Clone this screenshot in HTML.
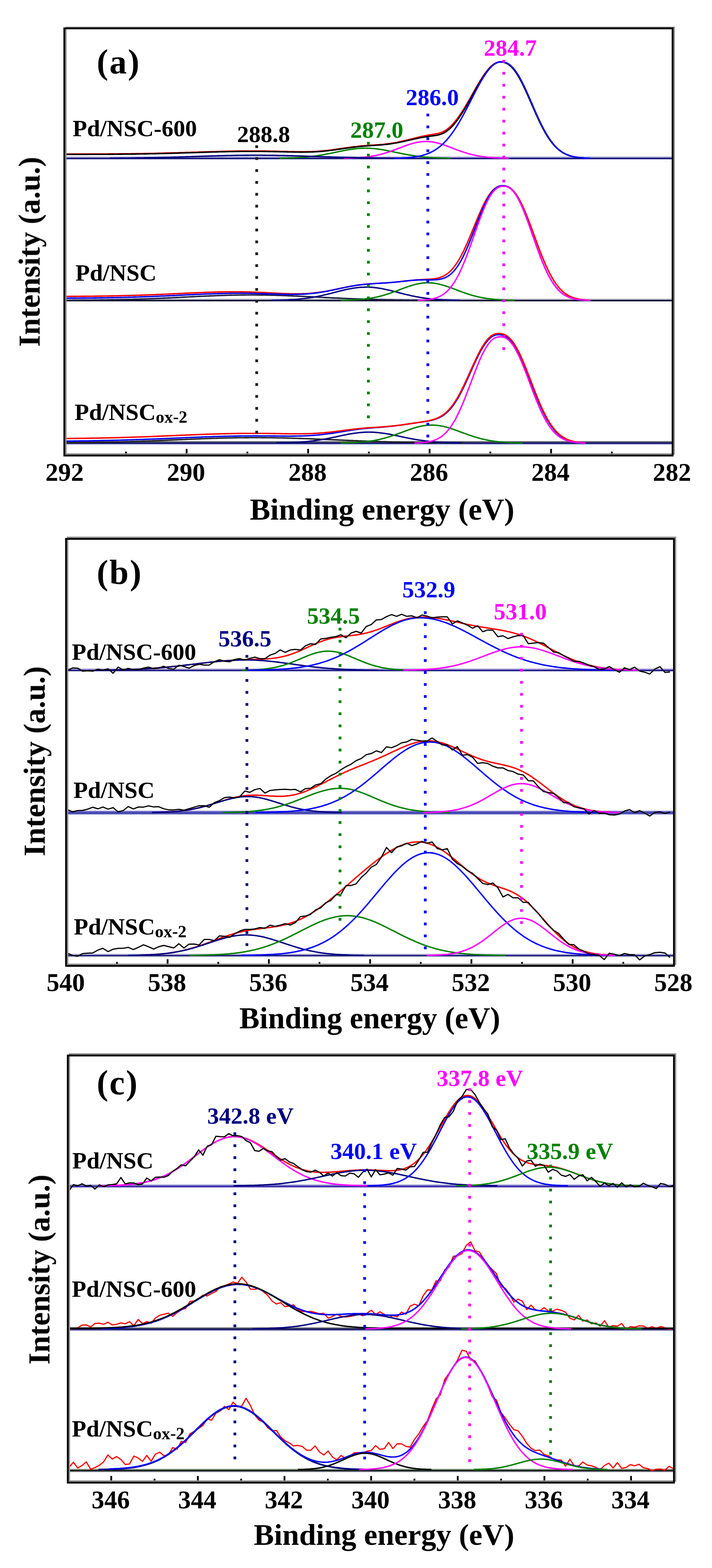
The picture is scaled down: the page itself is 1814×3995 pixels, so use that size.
<!DOCTYPE html>
<html><head><meta charset="utf-8"><title>XPS spectra</title>
<style>html,body{margin:0;padding:0;background:#fff;width:1814px;height:3995px;overflow:hidden}svg{display:block}
text{font-family:'Liberation Serif','Times New Roman',serif;font-weight:bold}</style></head>
<body><svg width="1814" height="3995" viewBox="0 0 1814 3995">
<defs><filter id="soft" x="0" y="0" width="100%" height="100%"><feGaussianBlur stdDeviation="0.75"/></filter></defs>
<rect width="1814" height="3995" fill="#ffffff"/>
<g filter="url(#soft)">
<line x1="163.9" y1="400.3" x2="1713.6" y2="400.3" stroke="#a6a6d8" stroke-width="3"/>
<line x1="163.9" y1="403.8" x2="1713.6" y2="403.8" stroke="#14147a" stroke-width="4"/>
<path d="M712 403.1L716 403.1L720 403L724 402.9L728 402.8L732 402.7L736 402.6L740 402.5L744 402.3L748 402.2L752 402L756 401.8L760 401.6L764 401.3L768 401L772 400.8L776 400.4L780 400.1L784 399.7L788 399.3L792 398.8L796 398.4L800 397.8L804 397.3L808 396.7L812 396.1L816 395.5L820 394.8L824 394.1L828 393.4L832 392.6L836 391.8L840 391L844 390.2L848 389.4L852 388.6L856 387.7L860 386.9L864 386.1L868 385.2L872 384.4L876 383.6L880 382.9L884 382.1L888 381.4L892 380.8L896 380.2L900 379.6L904 379.1L908 378.7L912 378.3L916 378L920 377.8L924 377.6L928 377.5L932 377.5L936 377.6L940 377.7L944 377.9L948 378.2L952 378.5L956 378.9L960 379.4L964 379.9L968 380.5L972 381.1L976 381.8L980 382.5L984 383.2L988 384L992 384.8L996 385.6L1000 386.5L1004 387.3L1008 388.2L1012 389L1016 389.8L1020 390.6L1024 391.4L1028 392.2L1032 393L1036 393.7L1040 394.5L1044 395.1L1048 395.8L1052 396.4L1056 397L1060 397.6L1064 398.1L1068 398.6L1072 399.1L1076 399.5L1080 399.9L1084 400.3L1088 400.6L1092 400.9L1096 401.2L1100 401.4L1104 401.7L1108 401.9L1112 402.1L1116 402.3L1120 402.4L1124 402.6L1128 402.7L1132 402.8L1136 402.9L1140 403L1144 403L1148 403.1" fill="none" stroke="#008000" stroke-width="3.6" stroke-linejoin="round"/>
<path d="M876 403.1L880 403L884 403L888 402.9L892 402.7L896 402.6L900 402.4L904 402.3L908 402L912 401.8L916 401.5L920 401.2L924 400.9L928 400.5L932 400.1L936 399.6L940 399.1L944 398.5L948 397.8L952 397.1L956 396.4L960 395.6L964 394.7L968 393.7L972 392.7L976 391.6L980 390.4L984 389.2L988 388L992 386.6L996 385.2L1000 383.8L1004 382.3L1008 380.9L1012 379.3L1016 377.8L1020 376.3L1024 374.7L1028 373.2L1032 371.8L1036 370.3L1040 369L1044 367.6L1048 366.4L1052 365.3L1056 364.2L1060 363.3L1064 362.5L1068 361.8L1072 361.3L1076 360.9L1080 360.6L1084 360.5L1088 360.5L1092 360.7L1096 361.1L1100 361.5L1104 362.1L1108 362.9L1112 363.8L1116 364.7L1120 365.8L1124 367L1128 368.3L1132 369.6L1136 371L1140 372.5L1144 374L1148 375.5L1152 377L1156 378.6L1160 380.1L1164 381.6L1168 383.1L1172 384.5L1176 385.9L1180 387.3L1184 388.6L1188 389.8L1192 391L1196 392.2L1200 393.2L1204 394.2L1208 395.1L1212 396L1216 396.8L1220 397.5L1224 398.2L1228 398.8L1232 399.3L1236 399.8L1240 400.3L1244 400.7L1248 401.1L1252 401.4L1256 401.7L1260 401.9L1264 402.2L1268 402.3L1272 402.5L1276 402.7L1280 402.8L1284 402.9L1288 403L1292 403.1L1296 403.2" fill="none" stroke="#ff00ff" stroke-width="3.6" stroke-linejoin="round"/>
<path d="M280 403.1L284 403.1L288 403.1L292 403L296 403L300 403L304 402.9L308 402.9L312 402.9L316 402.8L320 402.8L324 402.7L328 402.7L332 402.7L336 402.6L340 402.6L344 402.5L348 402.4L352 402.4L356 402.3L360 402.3L364 402.2L368 402.1L372 402.1L376 402L380 401.9L384 401.8L388 401.8L392 401.7L396 401.6L400 401.5L404 401.4L408 401.3L412 401.2L416 401.1L420 401L424 400.9L428 400.8L432 400.7L436 400.6L440 400.5L444 400.4L448 400.3L452 400.2L456 400L460 399.9L464 399.8L468 399.7L472 399.5L476 399.4L480 399.3L484 399.2L488 399L492 398.9L496 398.8L500 398.6L504 398.5L508 398.4L512 398.3L516 398.1L520 398L524 397.9L528 397.8L532 397.6L536 397.5L540 397.4L544 397.3L548 397.2L552 397L556 396.9L560 396.8L564 396.7L568 396.6L572 396.5L576 396.4L580 396.3L584 396.2L588 396.2L592 396.1L596 396L600 395.9L604 395.9L608 395.8L612 395.8L616 395.7L620 395.7L624 395.6L628 395.6L632 395.6L636 395.5L640 395.5L644 395.5L648 395.5L652 395.5L656 395.5L660 395.5L664 395.5L668 395.6L672 395.6L676 395.6L680 395.7L684 395.7L688 395.8L692 395.8L696 395.9L700 395.9L704 396L708 396.1L712 396.2L716 396.2L720 396.3L724 396.4L728 396.5L732 396.6L736 396.7L740 396.8L744 396.9L748 397L752 397.2L756 397.3L760 397.4L764 397.5L768 397.6L772 397.8L776 397.9L780 398L784 398.1L788 398.3L792 398.4L796 398.5L800 398.6L804 398.8L808 398.9L812 399L816 399.2L820 399.3L824 399.4L828 399.5L832 399.7L836 399.8L840 399.9L844 400L848 400.2L852 400.3L856 400.4L860 400.5L864 400.6L868 400.7L872 400.8L876 400.9L880 401L884 401.1L888 401.2L892 401.3L896 401.4L900 401.5L904 401.6L908 401.7L912 401.8L916 401.8L920 401.9L924 402L928 402.1L932 402.1L936 402.2L940 402.3L944 402.3L948 402.4L952 402.4L956 402.5L960 402.6L964 402.6L968 402.7L972 402.7L976 402.7L980 402.8L984 402.8L988 402.9L992 402.9L996 402.9L1000 403L1004 403L1008 403L1012 403.1L1016 403.1L1020 403.1" fill="none" stroke="#000080" stroke-width="3.6" stroke-linejoin="round"/>
<path d="M168 392.5L172 392.5L176 392.4L180 392.4L184 392.4L188 392.4L192 392.4L196 392.4L200 392.4L204 392.4L208 392.4L212 392.4L216 392.4L220 392.4L224 392.4L228 392.3L232 392.3L236 392.3L240 392.3L244 392.3L248 392.3L252 392.3L256 392.2L260 392.2L264 392.2L268 392.2L272 392.2L276 392.1L280 392.1L284 392.1L288 392.1L292 392L296 392L300 392L304 391.9L308 391.9L312 391.9L316 391.8L320 391.8L324 391.7L328 391.7L332 391.7L336 391.6L340 391.6L344 391.5L348 391.4L352 391.4L356 391.3L360 391.3L364 391.2L368 391.1L372 391.1L376 391L380 390.9L384 390.8L388 390.8L392 390.7L396 390.6L400 390.5L404 390.4L408 390.3L412 390.2L416 390.1L420 390L424 389.9L428 389.8L432 389.7L436 389.6L440 389.5L444 389.4L448 389.3L452 389.2L456 389L460 388.9L464 388.8L468 388.7L472 388.5L476 388.4L480 388.3L484 388.2L488 388L492 387.9L496 387.8L500 387.7L504 387.5L508 387.4L512 387.3L516 387.1L520 387L524 386.9L528 386.8L532 386.6L536 386.5L540 386.4L544 386.3L548 386.2L552 386.1L556 386L560 385.8L564 385.7L568 385.6L572 385.6L576 385.5L580 385.4L584 385.3L588 385.2L592 385.1L596 385.1L600 385L604 384.9L608 384.9L612 384.8L616 384.8L620 384.8L624 384.7L628 384.7L632 384.7L636 384.7L640 384.7L644 384.7L648 384.7L652 384.7L656 384.7L660 384.8L664 384.8L668 384.8L672 384.9L676 384.9L680 385L684 385.1L688 385.1L692 385.2L696 385.3L700 385.4L704 385.4L708 385.5L712 385.6L716 385.7L720 385.8L724 385.9L728 386L732 386.1L736 386.2L740 386.2L744 386.3L748 386.4L752 386.5L756 386.5L760 386.5L764 386.6L768 386.6L772 386.6L776 386.5L780 386.5L784 386.4L788 386.3L792 386.2L796 386.1L800 385.9L804 385.7L808 385.5L812 385.2L816 384.9L820 384.6L824 384.2L828 383.8L832 383.4L836 383L840 382.5L844 382L848 381.5L852 380.9L856 380.4L860 379.8L864 379.2L868 378.6L872 378L876 377.4L880 376.9L884 376.3L888 375.7L892 375.2L896 374.6L900 374.1L904 373.6L908 373.2L912 372.7L916 372.3L920 371.9L924 371.6L928 371.3L932 370.9L936 370.6L940 370.4L944 370.1L948 369.8L952 369.5L956 369.3L960 369L964 368.7L968 368.4L972 368L976 367.7L980 367.3L984 366.8L988 366.3L992 365.8L996 365.2L1000 364.6L1004 363.9L1008 363.2L1012 362.4L1016 361.6L1020 360.7L1024 359.8L1028 358.9L1032 357.9L1036 357L1040 356L1044 355L1048 353.9L1052 352.9L1056 351.9L1060 350.9L1064 350L1068 349L1072 348.1L1076 347.2L1080 346.4L1084 345.6L1088 344.9L1092 344.1L1096 343.5L1100 342.8L1104 342.2L1108 341.6L1112 340.8L1116 340L1120 338.9L1124 337.6L1128 335.9L1132 333.9L1136 331.5L1140 328.7L1144 325.5L1148 321.9L1152 317.9L1156 313.5L1160 308.7L1164 303.6L1168 298.2L1172 292.4L1176 286.4L1180 280.2L1184 273.7L1188 267L1192 260.2L1196 253.3L1200 246.2L1204 239.2L1208 232.1L1212 225L1216 218.1L1220 211.3L1224 204.7L1228 198.4L1232 192.3L1236 186.6L1240 181.3L1244 176.4L1248 172L1252 168.1L1256 164.8L1260 162L1264 159.9L1268 158.5L1272 157.6L1276 157.5L1280 157.9L1284 158.6L1288 159.9L1292 161.8L1296 164.3L1300 167.5L1304 171.3L1308 175.8L1312 181L1316 186.8L1320 193.1L1324 200.1L1328 207.6L1332 215.5L1336 223.8L1340 232.4L1344 241.3L1348 250.4L1352 259.5L1356 268.7L1360 277.9L1364 286.9L1368 295.8L1372 304.5L1376 312.9L1380 320.9L1384 328.6L1388 335.9L1392 342.8L1396 349.2L1400 355.2L1404 360.7L1408 365.8L1412 370.5L1416 374.7L1420 378.5L1424 382L1428 385L1432 387.7L1436 390.1L1440 392.2L1444 394L1448 395.5L1452 396.9L1456 398L1460 399L1464 399.8L1468 400.5L1472 401.1L1476 401.6L1480 401.9L1484 402.3L1488 402.5" fill="none" stroke="#ff0000" stroke-width="3.6" stroke-linejoin="round"/>
<path d="M168 393.5L172 393.5L176 393.4L180 393.4L184 393.4L188 393.4L192 393.4L196 393.4L200 393.4L204 393.4L208 393.4L212 393.4L216 393.4L220 393.4L224 393.4L228 393.3L232 393.3L236 393.3L240 393.3L244 393.3L248 393.3L252 393.3L256 393.2L260 393.2L264 393.2L268 393.2L272 393.2L276 393.1L280 393.1L284 393.1L288 393.1L292 393L296 393L300 393L304 392.9L308 392.9L312 392.9L316 392.8L320 392.8L324 392.7L328 392.7L332 392.7L336 392.6L340 392.6L344 392.5L348 392.4L352 392.4L356 392.3L360 392.3L364 392.2L368 392.1L372 392.1L376 392L380 391.9L384 391.8L388 391.8L392 391.7L396 391.6L400 391.5L404 391.4L408 391.3L412 391.2L416 391.1L420 391L424 390.9L428 390.8L432 390.7L436 390.6L440 390.5L444 390.4L448 390.3L452 390.2L456 390L460 389.9L464 389.8L468 389.7L472 389.5L476 389.4L480 389.3L484 389.2L488 389L492 388.9L496 388.8L500 388.7L504 388.5L508 388.4L512 388.3L516 388.1L520 388L524 387.9L528 387.8L532 387.6L536 387.5L540 387.4L544 387.3L548 387.2L552 387.1L556 387L560 386.8L564 386.7L568 386.6L572 386.6L576 386.5L580 386.4L584 386.3L588 386.2L592 386.1L596 386.1L600 386L604 385.9L608 385.9L612 385.8L616 385.8L620 385.8L624 385.7L628 385.7L632 385.7L636 385.7L640 385.7L644 385.7L648 385.7L652 385.7L656 385.7L660 385.8L664 385.8L668 385.8L672 385.9L676 385.9L680 386L684 386.1L688 386.1L692 386.2L696 386.3L700 386.4L704 386.4L708 386.5L712 386.6L716 386.7L720 386.8L724 386.9L728 387L732 387.1L736 387.2L740 387.2L744 387.3L748 387.4L752 387.5L756 387.5L760 387.5L764 387.6L768 387.6L772 387.6L776 387.5L780 387.5L784 387.4L788 387.3L792 387.2L796 387.1L800 386.9L804 386.7L808 386.5L812 386.2L816 385.9L820 385.6L824 385.2L828 384.8L832 384.4L836 384L840 383.5L844 383L848 382.5L852 381.9L856 381.4L860 380.8L864 380.2L868 379.6L872 379L876 378.4L880 377.9L884 377.3L888 376.7L892 376.2L896 375.6L900 375.1L904 374.6L908 374.2L912 373.7L916 373.3L920 372.9L924 372.6L928 372.3L932 371.9L936 371.6L940 371.4L944 371.1L948 370.8L952 370.6L956 370.3L960 370L964 369.7L968 369.4L972 369.1L976 368.7L980 368.3L984 367.9L988 367.4L992 366.9L996 366.4L1000 365.8L1004 365.1L1008 364.4L1012 363.7L1016 362.9L1020 362.1L1024 361.3L1028 360.4L1032 359.5L1036 358.6L1040 357.7L1044 356.8L1048 355.9L1052 355L1056 354.1L1060 353.2L1064 352.4L1068 351.6L1072 350.8L1076 350.1L1080 349.4L1084 348.7L1088 348.1L1092 347.5L1096 347L1100 346.5L1104 345.9L1108 345.4L1112 344.7L1116 343.9L1120 342.9L1124 341.6L1128 340L1132 338.1L1136 335.7L1140 332.9L1144 329.7L1148 326L1152 322L1156 317.5L1160 312.7L1164 307.5L1168 302L1172 296.2L1176 290.1L1180 283.7L1184 277.1L1188 270.3L1192 263.4L1196 256.3L1200 249.1L1204 241.8L1208 234.6L1212 227.4L1216 220.3L1220 213.3L1224 206.6L1228 200.1L1232 193.9L1236 188L1240 182.6L1244 177.6L1248 173L1252 169L1256 165.6L1260 162.8L1264 160.6L1268 159L1272 158.1L1276 157.9L1280 158.2L1284 159L1288 160.2L1292 162L1296 164.5L1300 167.7L1304 171.5L1308 175.9L1312 181.1L1316 186.8L1320 193.2L1324 200.2L1328 207.6L1332 215.5L1336 223.8L1340 232.5L1344 241.3L1348 250.4L1352 259.6L1356 268.7L1360 277.9L1364 287L1368 295.8L1372 304.5L1376 312.9L1380 320.9L1384 328.6L1388 335.9L1392 342.8L1396 349.2L1400 355.2L1404 360.7L1408 365.8L1412 370.5L1416 374.7L1420 378.5L1424 382L1428 385L1432 387.7L1436 390.1L1440 392.2L1444 394L1448 395.5L1452 396.9L1456 398L1460 399L1464 399.8L1468 400.5L1472 401.1L1476 401.6L1480 401.9L1484 402.3L1488 402.5" fill="none" stroke="#000000" stroke-width="3.6" stroke-linejoin="round"/>
<path d="M1004 403.1L1008 403L1012 402.9L1016 402.8L1020 402.7L1024 402.5L1028 402.3L1032 402.1L1036 401.9L1040 401.6L1044 401.2L1048 400.8L1052 400.4L1056 399.8L1060 399.2L1064 398.6L1068 397.8L1072 396.9L1076 395.9L1080 394.8L1084 393.6L1088 392.1L1092 390.6L1096 388.8L1100 386.9L1104 384.8L1108 382.4L1112 379.9L1116 377L1120 374L1124 370.6L1128 367L1132 363.1L1136 359L1140 354.5L1144 349.7L1148 344.6L1152 339.2L1156 333.5L1160 327.5L1164 321.3L1168 314.7L1172 307.9L1176 300.9L1180 293.6L1184 286.2L1188 278.6L1192 270.9L1196 263.1L1200 255.3L1204 247.4L1208 239.6L1212 231.9L1216 224.3L1220 216.9L1224 209.7L1228 202.8L1232 196.3L1236 190.1L1240 184.3L1244 179L1248 174.2L1252 170L1256 166.3L1260 163.2L1264 160.8L1268 159L1272 157.9L1276 157.5L1280 157.6L1284 158.1L1288 159.2L1292 160.8L1296 163.1L1300 166L1304 169.6L1308 173.9L1312 178.9L1316 184.5L1320 190.7L1324 197.5L1328 204.9L1332 212.7L1336 220.9L1340 229.5L1344 238.4L1348 247.4L1352 256.6L1356 265.8L1360 275.1L1364 284.2L1368 293.2L1372 302L1376 310.5L1380 318.7L1384 326.5L1388 334L1392 341L1396 347.6L1400 353.8L1404 359.5L1408 364.7L1412 369.5L1416 373.9L1420 377.8L1424 381.3L1428 384.5L1432 387.2L1436 389.7L1440 391.8L1444 393.7L1448 395.3L1452 396.7L1456 397.9L1460 398.9L1464 399.7L1468 400.4L1472 401L1476 401.5L1480 401.9L1484 402.2L1488 402.5L1492 402.7L1496 402.9L1500 403L1504 403.1" fill="none" stroke="#0000ff" stroke-width="3.6" stroke-linejoin="round"/>
<line x1="163.9" y1="762.3" x2="1713.6" y2="762.3" stroke="#c0c0d0" stroke-width="3"/>
<line x1="163.9" y1="765.8" x2="1713.6" y2="765.8" stroke="#101030" stroke-width="4"/>
<path d="M184 765.1L188 765.1L192 765.1L196 765L200 765L204 765L208 764.9L212 764.9L216 764.9L220 764.8L224 764.8L228 764.8L232 764.7L236 764.7L240 764.6L244 764.6L248 764.5L252 764.5L256 764.4L260 764.3L264 764.3L268 764.2L272 764.2L276 764.1L280 764L284 763.9L288 763.9L292 763.8L296 763.7L300 763.6L304 763.5L308 763.4L312 763.3L316 763.2L320 763.1L324 763L328 762.9L332 762.8L336 762.7L340 762.5L344 762.4L348 762.3L352 762.2L356 762L360 761.9L364 761.8L368 761.6L372 761.5L376 761.3L380 761.2L384 761L388 760.8L392 760.7L396 760.5L400 760.3L404 760.2L408 760L412 759.8L416 759.6L420 759.4L424 759.3L428 759.1L432 758.9L436 758.7L440 758.5L444 758.3L448 758.1L452 757.9L456 757.7L460 757.5L464 757.3L468 757.1L472 756.9L476 756.7L480 756.5L484 756.3L488 756.1L492 755.9L496 755.7L500 755.5L504 755.3L508 755.1L512 755L516 754.8L520 754.6L524 754.4L528 754.2L532 754.1L536 753.9L540 753.7L544 753.6L548 753.4L552 753.3L556 753.1L560 753L564 752.8L568 752.7L572 752.6L576 752.5L580 752.3L584 752.2L588 752.1L592 752L596 752L600 751.9L604 751.8L608 751.7L612 751.7L616 751.6L620 751.6L624 751.6L628 751.5L632 751.5L636 751.5L640 751.5L644 751.5L648 751.5L652 751.5L656 751.6L660 751.6L664 751.6L668 751.7L672 751.7L676 751.8L680 751.9L684 752L688 752L692 752.1L696 752.2L700 752.3L704 752.5L708 752.6L712 752.7L716 752.8L720 753L724 753.1L728 753.3L732 753.4L736 753.6L740 753.7L744 753.9L748 754.1L752 754.2L756 754.4L760 754.6L764 754.8L768 755L772 755.1L776 755.3L780 755.5L784 755.7L788 755.9L792 756.1L796 756.3L800 756.5L804 756.7L808 756.9L812 757.1L816 757.3L820 757.5L824 757.7L828 757.9L832 758.1L836 758.3L840 758.5L844 758.7L848 758.9L852 759.1L856 759.3L860 759.4L864 759.6L868 759.8L872 760L876 760.2L880 760.3L884 760.5L888 760.7L892 760.8L896 761L900 761.2L904 761.3L908 761.5L912 761.6L916 761.8L920 761.9L924 762L928 762.2L932 762.3L936 762.4L940 762.5L944 762.7L948 762.8L952 762.9L956 763L960 763.1L964 763.2L968 763.3L972 763.4L976 763.5L980 763.6L984 763.7L988 763.8L992 763.9L996 763.9L1000 764L1004 764.1L1008 764.2L1012 764.2L1016 764.3L1020 764.3L1024 764.4L1028 764.5L1032 764.5L1036 764.6L1040 764.6L1044 764.7L1048 764.7L1052 764.8L1056 764.8L1060 764.8L1064 764.9L1068 764.9L1072 764.9L1076 765L1080 765L1084 765L1088 765.1L1092 765.1L1096 765.1" fill="none" stroke="#1a1a40" stroke-width="3.6" stroke-linejoin="round"/>
<path d="M692 765.1L696 765.1L700 765L704 764.9L708 764.8L712 764.8L716 764.6L720 764.5L724 764.4L728 764.2L732 764.1L736 763.9L740 763.6L744 763.4L748 763.2L752 762.9L756 762.6L760 762.2L764 761.8L768 761.4L772 761L776 760.5L780 760L784 759.5L788 758.9L792 758.3L796 757.7L800 757L804 756.2L808 755.5L812 754.7L816 753.8L820 753L824 752.1L828 751.1L832 750.2L836 749.2L840 748.2L844 747.2L848 746.2L852 745.1L856 744.1L860 743.1L864 742.1L868 741.1L872 740.1L876 739.1L880 738.2L884 737.3L888 736.5L892 735.7L896 734.9L900 734.3L904 733.7L908 733.1L912 732.7L916 732.3L920 731.9L924 731.7L928 731.6L932 731.5L936 731.5L940 731.6L944 731.8L948 732.1L952 732.4L956 732.9L960 733.4L964 734L968 734.6L972 735.3L976 736.1L980 736.9L984 737.8L988 738.7L992 739.6L996 740.6L1000 741.6L1004 742.6L1008 743.6L1012 744.6L1016 745.7L1020 746.7L1024 747.7L1028 748.7L1032 749.7L1036 750.7L1040 751.6L1044 752.5L1048 753.4L1052 754.3L1056 755.1L1060 755.9L1064 756.6L1068 757.3L1072 758L1076 758.6L1080 759.2L1084 759.8L1088 760.3L1092 760.8L1096 761.2L1100 761.7L1104 762L1108 762.4L1112 762.7L1116 763L1120 763.3L1124 763.5L1128 763.8L1132 764L1136 764.1L1140 764.3L1144 764.5L1148 764.6L1152 764.7L1156 764.8L1160 764.9L1164 765L1168 765L1172 765.1" fill="none" stroke="#000080" stroke-width="3.6" stroke-linejoin="round"/>
<path d="M868 765.1L872 765L876 765L880 764.9L884 764.7L888 764.6L892 764.5L896 764.3L900 764.1L904 763.9L908 763.7L912 763.4L916 763.1L920 762.7L924 762.3L928 761.9L932 761.4L936 760.9L940 760.4L944 759.7L948 759.1L952 758.3L956 757.5L960 756.7L964 755.8L968 754.8L972 753.8L976 752.7L980 751.5L984 750.3L988 749L992 747.7L996 746.3L1000 744.9L1004 743.4L1008 742L1012 740.5L1016 739L1020 737.4L1024 735.9L1028 734.4L1032 733L1036 731.5L1040 730.1L1044 728.8L1048 727.5L1052 726.4L1056 725.2L1060 724.2L1064 723.3L1068 722.6L1072 721.9L1076 721.3L1080 720.9L1084 720.7L1088 720.5L1092 720.5L1096 720.7L1100 720.9L1104 721.3L1108 721.9L1112 722.6L1116 723.3L1120 724.2L1124 725.2L1128 726.4L1132 727.5L1136 728.8L1140 730.1L1144 731.5L1148 733L1152 734.4L1156 735.9L1160 737.4L1164 739L1168 740.5L1172 742L1176 743.4L1180 744.9L1184 746.3L1188 747.7L1192 749L1196 750.3L1200 751.5L1204 752.7L1208 753.8L1212 754.8L1216 755.8L1220 756.7L1224 757.5L1228 758.3L1232 759.1L1236 759.7L1240 760.4L1244 760.9L1248 761.4L1252 761.9L1256 762.3L1260 762.7L1264 763.1L1268 763.4L1272 763.7L1276 763.9L1280 764.1L1284 764.3L1288 764.5L1292 764.6L1296 764.7L1300 764.9L1304 765L1308 765L1312 765.1" fill="none" stroke="#008000" stroke-width="3.6" stroke-linejoin="round"/>
<path d="M168 755.2L172 755.2L176 755.2L180 755.1L184 755.1L188 755.1L192 755.1L196 755L200 755L204 755L208 754.9L212 754.9L216 754.9L220 754.8L224 754.8L228 754.8L232 754.7L236 754.7L240 754.6L244 754.6L248 754.5L252 754.5L256 754.4L260 754.4L264 754.3L268 754.2L272 754.2L276 754.1L280 754L284 753.9L288 753.9L292 753.8L296 753.7L300 753.6L304 753.5L308 753.4L312 753.3L316 753.2L320 753.1L324 753L328 752.9L332 752.8L336 752.7L340 752.6L344 752.5L348 752.3L352 752.2L356 752.1L360 751.9L364 751.8L368 751.6L372 751.5L376 751.4L380 751.2L384 751L388 750.9L392 750.7L396 750.6L400 750.4L404 750.2L408 750.1L412 749.9L416 749.7L420 749.5L424 749.4L428 749.2L432 749L436 748.8L440 748.6L444 748.4L448 748.2L452 748.1L456 747.9L460 747.7L464 747.5L468 747.3L472 747.1L476 746.9L480 746.8L484 746.6L488 746.4L492 746.2L496 746L500 745.9L504 745.7L508 745.5L512 745.4L516 745.2L520 745.1L524 744.9L528 744.8L532 744.6L536 744.5L540 744.4L544 744.3L548 744.1L552 744L556 743.9L560 743.9L564 743.8L568 743.7L572 743.6L576 743.6L580 743.5L584 743.5L588 743.5L592 743.5L596 743.5L600 743.5L604 743.5L608 743.5L612 743.6L616 743.6L620 743.7L624 743.7L628 743.8L632 743.9L636 744L640 744.1L644 744.3L648 744.4L652 744.6L656 744.7L660 744.9L664 745.1L668 745.2L672 745.4L676 745.6L680 745.8L684 746L688 746.2L692 746.4L696 746.7L700 746.9L704 747.1L708 747.3L712 747.5L716 747.6L720 747.8L724 748L728 748.1L732 748.3L736 748.4L740 748.5L744 748.6L748 748.6L752 748.6L756 748.6L760 748.6L764 748.6L768 748.5L772 748.3L776 748.2L780 748L784 747.7L788 747.5L792 747.1L796 746.8L800 746.4L804 745.9L808 745.4L812 744.9L816 744.3L820 743.7L824 743.1L828 742.4L832 741.7L836 741L840 740.2L844 739.4L848 738.6L852 737.8L856 736.9L860 736.1L864 735.2L868 734.4L872 733.6L876 732.7L880 731.9L884 731.1L888 730.3L892 729.6L896 728.9L900 728.2L904 727.5L908 726.9L912 726.4L916 725.8L920 725.3L924 724.9L928 724.4L932 724L936 723.7L940 723.4L944 723.1L948 722.8L952 722.5L956 722.3L960 722.1L964 721.8L968 721.6L972 721.4L976 721.1L980 720.9L984 720.6L988 720.4L992 720.1L996 719.7L1000 719.4L1004 719L1008 718.6L1012 718.2L1016 717.8L1020 717.4L1024 716.9L1028 716.5L1032 716.1L1036 715.6L1040 715.2L1044 714.8L1048 714.4L1052 714L1056 713.6L1060 713.3L1064 713L1068 712.8L1072 712.5L1076 712.3L1080 712.1L1084 711.9L1088 711.8L1092 711.5L1096 711.3L1100 710.9L1104 710.5L1108 710L1112 709.3L1116 708.4L1120 707.3L1124 705.9L1128 704.3L1132 702.3L1136 699.9L1140 697.1L1144 693.9L1148 690.2L1152 686L1156 681.2L1160 676L1164 670.2L1168 663.8L1172 656.9L1176 649.5L1180 641.7L1184 633.3L1188 624.6L1192 615.5L1196 606.1L1200 596.5L1204 586.8L1208 577L1212 567.2L1216 557.5L1220 548.1L1224 538.9L1228 530.1L1232 521.7L1236 513.9L1240 506.6L1244 500L1248 494.1L1252 488.9L1256 484.5L1260 480.8L1264 477.9L1268 475.7L1272 474.2L1276 473.4L1280 473.2L1284 473.3L1288 473.8L1292 474.9L1296 476.6L1300 479L1304 482.2L1308 486.1L1312 490.9L1316 496.4L1320 502.7L1324 509.7L1328 517.5L1332 525.9L1336 534.9L1340 544.4L1344 554.3L1348 564.7L1352 575.3L1356 586.1L1360 597L1364 607.9L1368 618.8L1372 629.6L1376 640.1L1380 650.3L1384 660.2L1388 669.7L1392 678.8L1396 687.3L1400 695.4L1404 703L1408 710L1412 716.5L1416 722.4L1420 727.8L1424 732.7L1428 737.1L1432 741.1L1436 744.6L1440 747.7L1444 750.4L1448 752.8L1452 754.8L1456 756.6L1460 758.1L1464 759.4L1468 760.5L1472 761.4L1476 762.2L1480 762.9L1484 763.4L1488 763.8L1492 764.2L1496 764.4L1500 764.7" fill="none" stroke="#ff0000" stroke-width="3.6" stroke-linejoin="round"/>
<path d="M168 759.7L172 759.7L176 759.7L180 759.6L184 759.6L188 759.6L192 759.6L196 759.5L200 759.5L204 759.5L208 759.4L212 759.4L216 759.4L220 759.3L224 759.3L228 759.3L232 759.2L236 759.2L240 759.1L244 759.1L248 759L252 759L256 758.9L260 758.9L264 758.8L268 758.7L272 758.7L276 758.6L280 758.5L284 758.4L288 758.4L292 758.3L296 758.2L300 758.1L304 758L308 757.9L312 757.8L316 757.7L320 757.6L324 757.5L328 757.4L332 757.3L336 757.2L340 757.1L344 756.9L348 756.8L352 756.7L356 756.5L360 756.4L364 756.3L368 756.1L372 756L376 755.8L380 755.7L384 755.5L388 755.4L392 755.2L396 755L400 754.9L404 754.7L408 754.5L412 754.3L416 754.2L420 754L424 753.8L428 753.6L432 753.4L436 753.3L440 753.1L444 752.9L448 752.7L452 752.5L456 752.3L460 752.1L464 751.9L468 751.7L472 751.5L476 751.3L480 751.1L484 751L488 750.8L492 750.6L496 750.4L500 750.2L504 750L508 749.9L512 749.7L516 749.5L520 749.3L524 749.2L528 749L532 748.9L536 748.7L540 748.6L544 748.4L548 748.3L552 748.2L556 748.1L560 748L564 747.9L568 747.8L572 747.7L576 747.6L580 747.5L584 747.4L588 747.4L592 747.3L596 747.3L600 747.3L604 747.2L608 747.2L612 747.2L616 747.2L620 747.2L624 747.3L628 747.3L632 747.3L636 747.4L640 747.4L644 747.5L648 747.6L652 747.7L656 747.8L660 747.9L664 748L668 748.1L672 748.2L676 748.3L680 748.5L684 748.6L688 748.7L692 748.9L696 749L700 749.1L704 749.3L708 749.4L712 749.5L716 749.6L720 749.7L724 749.8L728 749.9L732 749.9L736 750L740 750L744 750L748 750L752 750L756 749.9L760 749.9L764 749.7L768 749.6L772 749.4L776 749.2L780 748.9L784 748.7L788 748.3L792 748L796 747.6L800 747.1L804 746.6L808 746.1L812 745.5L816 744.9L820 744.3L824 743.6L828 742.9L832 742.2L836 741.4L840 740.6L844 739.8L848 739L852 738.1L856 737.3L860 736.4L864 735.6L868 734.7L872 733.8L876 733L880 732.2L884 731.4L888 730.6L892 729.8L896 729.1L900 728.4L904 727.7L908 727.1L912 726.5L916 726L920 725.5L924 725L928 724.6L932 724.2L936 723.8L940 723.5L944 723.2L948 722.9L952 722.6L956 722.4L960 722.1L964 721.9L968 721.7L972 721.4L976 721.2L980 721L984 720.7L988 720.4L992 720.1L996 719.8L1000 719.4L1004 719.1L1008 718.7L1012 718.3L1016 717.9L1020 717.5L1024 717L1028 716.6L1032 716.1L1036 715.7L1040 715.3L1044 714.9L1048 714.5L1052 714.2L1056 713.9L1060 713.6L1064 713.4L1068 713.3L1072 713.2L1076 713.1L1080 713L1084 713L1088 713.1L1092 713.1L1096 713.1L1100 713.1L1104 713L1108 712.9L1112 712.6L1116 712.2L1120 711.6L1124 710.8L1128 709.7L1132 708.3L1136 706.6L1140 704.4L1144 701.9L1148 698.8L1152 695.2L1156 691L1160 686.3L1164 681L1168 675L1172 668.5L1176 661.3L1180 653.6L1184 645.3L1188 636.5L1192 627.3L1196 617.6L1200 607.7L1204 597.5L1208 587.1L1212 576.7L1216 566.4L1220 556.2L1224 546.2L1228 536.6L1232 527.4L1236 518.8L1240 510.7L1244 503.4L1248 496.8L1252 491L1256 486L1260 481.9L1264 478.6L1268 476.1L1272 474.4L1276 473.5L1280 473.2L1284 473.3L1288 473.9L1292 475L1296 476.9L1300 479.6L1304 483.1L1308 487.5L1312 492.8L1316 498.9L1320 505.9L1324 513.6L1328 522.2L1332 531.4L1336 541.2L1340 551.5L1344 562.2L1348 573.3L1352 584.7L1356 596.1L1360 607.6L1364 619L1368 630.3L1372 641.3L1376 652L1380 662.3L1384 672.2L1388 681.6L1392 690.4L1396 698.6L1400 706.3L1404 713.4L1408 719.9L1412 725.8L1416 731.1L1420 735.9L1424 740.2L1428 744L1432 747.3L1436 750.2L1440 752.7L1444 754.9L1448 756.7L1452 758.3L1456 759.6L1460 760.7L1464 761.7L1468 762.4L1472 763.1L1476 763.6L1480 764L1484 764.3L1488 764.6" fill="none" stroke="#0000ff" stroke-width="3.6" stroke-linejoin="round"/>
<path d="M1064 765.1L1068 765L1072 764.8L1076 764.6L1080 764.4L1084 764.1L1088 763.7L1092 763.2L1096 762.6L1100 761.9L1104 761L1108 759.9L1112 758.7L1116 757.1L1120 755.4L1124 753.3L1128 750.9L1132 748.1L1136 744.8L1140 741.2L1144 737L1148 732.4L1152 727.2L1156 721.4L1160 715.1L1164 708.2L1168 700.6L1172 692.5L1176 683.8L1180 674.6L1184 664.8L1188 654.6L1192 644L1196 633.1L1200 621.9L1204 610.5L1208 599L1212 587.6L1216 576.2L1220 565.1L1224 554.3L1228 543.8L1232 533.9L1236 524.6L1240 515.9L1244 508L1248 500.9L1252 494.6L1256 489.2L1260 484.7L1264 481L1268 478.2L1272 476.3L1276 475.1L1280 474.6L1284 474.5L1288 474.9L1292 475.9L1296 477.7L1300 480.2L1304 483.7L1308 488L1312 493.2L1316 499.2L1320 506.2L1324 513.9L1328 522.4L1332 531.5L1336 541.3L1340 551.6L1344 562.3L1348 573.4L1352 584.7L1356 596.2L1360 607.6L1364 619.1L1368 630.3L1372 641.3L1376 652L1380 662.3L1384 672.2L1388 681.6L1392 690.4L1396 698.6L1400 706.3L1404 713.4L1408 719.9L1412 725.8L1416 731.1L1420 735.9L1424 740.2L1428 744L1432 747.3L1436 750.2L1440 752.7L1444 754.9L1448 756.7L1452 758.3L1456 759.6L1460 760.7L1464 761.7L1468 762.4L1472 763.1L1476 763.6L1480 764L1484 764.3L1488 764.6L1492 764.8L1496 765L1500 765.1L1504 765.2" fill="none" stroke="#ff00ff" stroke-width="3.6" stroke-linejoin="round"/>
<line x1="163.9" y1="1125.8" x2="1713.6" y2="1125.8" stroke="#505060" stroke-width="3"/>
<line x1="163.9" y1="1129.3" x2="1713.6" y2="1129.3" stroke="#10106a" stroke-width="4"/>
<line x1="163.9" y1="1132.3" x2="1713.6" y2="1132.3" stroke="#b8c0e8" stroke-width="2.5"/>
<path d="M168 1128.2L172 1128.2L176 1128.2L180 1128.1L184 1128.1L188 1128L192 1128L196 1127.9L200 1127.9L204 1127.8L208 1127.8L212 1127.7L216 1127.7L220 1127.6L224 1127.6L228 1127.5L232 1127.4L236 1127.4L240 1127.3L244 1127.2L248 1127.1L252 1127.1L256 1127L260 1126.9L264 1126.8L268 1126.7L272 1126.7L276 1126.6L280 1126.5L284 1126.4L288 1126.3L292 1126.2L296 1126.1L300 1126L304 1125.9L308 1125.8L312 1125.6L316 1125.5L320 1125.4L324 1125.3L328 1125.2L332 1125L336 1124.9L340 1124.8L344 1124.7L348 1124.5L352 1124.4L356 1124.2L360 1124.1L364 1124L368 1123.8L372 1123.7L376 1123.5L380 1123.4L384 1123.2L388 1123.1L392 1122.9L396 1122.7L400 1122.6L404 1122.4L408 1122.3L412 1122.1L416 1121.9L420 1121.8L424 1121.6L428 1121.4L432 1121.3L436 1121.1L440 1120.9L444 1120.8L448 1120.6L452 1120.4L456 1120.3L460 1120.1L464 1119.9L468 1119.7L472 1119.6L476 1119.4L480 1119.2L484 1119.1L488 1118.9L492 1118.8L496 1118.6L500 1118.4L504 1118.3L508 1118.1L512 1118L516 1117.8L520 1117.7L524 1117.5L528 1117.4L532 1117.2L536 1117.1L540 1117L544 1116.8L548 1116.7L552 1116.6L556 1116.5L560 1116.3L564 1116.2L568 1116.1L572 1116L576 1115.9L580 1115.8L584 1115.7L588 1115.7L592 1115.6L596 1115.5L600 1115.4L604 1115.4L608 1115.3L612 1115.3L616 1115.2L620 1115.2L624 1115.1L628 1115.1L632 1115.1L636 1115L640 1115L644 1115L648 1115L652 1115L656 1115L660 1115L664 1115L668 1115.1L672 1115.1L676 1115.1L680 1115.2L684 1115.2L688 1115.3L692 1115.3L696 1115.4L700 1115.4L704 1115.5L708 1115.6L712 1115.7L716 1115.7L720 1115.8L724 1115.9L728 1116L732 1116.1L736 1116.2L740 1116.3L744 1116.5L748 1116.6L752 1116.7L756 1116.8L760 1117L764 1117.1L768 1117.2L772 1117.4L776 1117.5L780 1117.7L784 1117.8L788 1118L792 1118.1L796 1118.3L800 1118.4L804 1118.6L808 1118.8L812 1118.9L816 1119.1L820 1119.2L824 1119.4L828 1119.6L832 1119.7L836 1119.9L840 1120.1L844 1120.3L848 1120.4L852 1120.6L856 1120.8L860 1120.9L864 1121.1L868 1121.3L872 1121.4L876 1121.6L880 1121.8L884 1121.9L888 1122.1L892 1122.3L896 1122.4L900 1122.6L904 1122.7L908 1122.9L912 1123.1L916 1123.2L920 1123.4L924 1123.5L928 1123.7L932 1123.8L936 1124L940 1124.1L944 1124.2L948 1124.4L952 1124.5L956 1124.7L960 1124.8L964 1124.9L968 1125L972 1125.2L976 1125.3L980 1125.4L984 1125.5L988 1125.6L992 1125.8L996 1125.9L1000 1126L1004 1126.1L1008 1126.2L1012 1126.3L1016 1126.4L1020 1126.5L1024 1126.6L1028 1126.7L1032 1126.7L1036 1126.8L1040 1126.9L1044 1127L1048 1127.1L1052 1127.1L1056 1127.2L1060 1127.3L1064 1127.4L1068 1127.4L1072 1127.5L1076 1127.6L1080 1127.6L1084 1127.7L1088 1127.7L1092 1127.8L1096 1127.8L1100 1127.9L1104 1127.9L1108 1128L1112 1128L1116 1128.1L1120 1128.1L1124 1128.2L1128 1128.2L1132 1128.2L1136 1128.3L1140 1128.3L1144 1128.3L1148 1128.4L1152 1128.4L1156 1128.4L1160 1128.5L1164 1128.5L1168 1128.5L1172 1128.5L1176 1128.6L1180 1128.6L1184 1128.6" fill="none" stroke="#202020" stroke-width="3.6" stroke-linejoin="round"/>
<path d="M704 1128.6L708 1128.6L712 1128.5L716 1128.4L720 1128.4L724 1128.3L728 1128.2L732 1128L736 1127.9L740 1127.8L744 1127.6L748 1127.4L752 1127.2L756 1127L760 1126.8L764 1126.5L768 1126.2L772 1125.9L776 1125.6L780 1125.2L784 1124.8L788 1124.4L792 1123.9L796 1123.5L800 1122.9L804 1122.4L808 1121.8L812 1121.2L816 1120.6L820 1119.9L824 1119.2L828 1118.5L832 1117.7L836 1117L840 1116.2L844 1115.4L848 1114.5L852 1113.7L856 1112.9L860 1112L864 1111.2L868 1110.3L872 1109.5L876 1108.7L880 1107.9L884 1107.1L888 1106.3L892 1105.6L896 1104.9L900 1104.3L904 1103.7L908 1103.2L912 1102.7L916 1102.2L920 1101.9L924 1101.6L928 1101.3L932 1101.1L936 1101L940 1101L944 1101L948 1101.1L952 1101.3L956 1101.6L960 1101.9L964 1102.2L968 1102.7L972 1103.2L976 1103.7L980 1104.3L984 1104.9L988 1105.6L992 1106.3L996 1107.1L1000 1107.9L1004 1108.7L1008 1109.5L1012 1110.3L1016 1111.2L1020 1112L1024 1112.9L1028 1113.7L1032 1114.5L1036 1115.4L1040 1116.2L1044 1117L1048 1117.7L1052 1118.5L1056 1119.2L1060 1119.9L1064 1120.6L1068 1121.2L1072 1121.8L1076 1122.4L1080 1122.9L1084 1123.5L1088 1123.9L1092 1124.4L1096 1124.8L1100 1125.2L1104 1125.6L1108 1125.9L1112 1126.2L1116 1126.5L1120 1126.8L1124 1127L1128 1127.2L1132 1127.4L1136 1127.6L1140 1127.8L1144 1127.9L1148 1128L1152 1128.2L1156 1128.3L1160 1128.4L1164 1128.4L1168 1128.5L1172 1128.6L1176 1128.6" fill="none" stroke="#000080" stroke-width="3.6" stroke-linejoin="round"/>
<path d="M868 1128.6L872 1128.5L876 1128.5L880 1128.4L884 1128.3L888 1128.2L892 1128L896 1127.9L900 1127.7L904 1127.5L908 1127.3L912 1127L916 1126.7L920 1126.4L924 1126.1L928 1125.7L932 1125.3L936 1124.8L940 1124.3L944 1123.7L948 1123.1L952 1122.4L956 1121.7L960 1120.9L964 1120.1L968 1119.2L972 1118.3L976 1117.3L980 1116.2L984 1115.1L988 1113.9L992 1112.7L996 1111.4L1000 1110.1L1004 1108.7L1008 1107.3L1012 1105.9L1016 1104.4L1020 1103L1024 1101.5L1028 1100L1032 1098.5L1036 1097L1040 1095.6L1044 1094.2L1048 1092.8L1052 1091.5L1056 1090.3L1060 1089.1L1064 1088L1068 1087L1072 1086.1L1076 1085.3L1080 1084.6L1084 1084L1088 1083.6L1092 1083.3L1096 1083.1L1100 1083L1104 1083.1L1108 1083.3L1112 1083.6L1116 1084L1120 1084.6L1124 1085.3L1128 1086.1L1132 1087L1136 1088L1140 1089.1L1144 1090.3L1148 1091.5L1152 1092.8L1156 1094.2L1160 1095.6L1164 1097L1168 1098.5L1172 1100L1176 1101.5L1180 1103L1184 1104.4L1188 1105.9L1192 1107.3L1196 1108.7L1200 1110.1L1204 1111.4L1208 1112.7L1212 1113.9L1216 1115.1L1220 1116.2L1224 1117.3L1228 1118.3L1232 1119.2L1236 1120.1L1240 1120.9L1244 1121.7L1248 1122.4L1252 1123.1L1256 1123.7L1260 1124.3L1264 1124.8L1268 1125.3L1272 1125.7L1276 1126.1L1280 1126.4L1284 1126.7L1288 1127L1292 1127.3L1296 1127.5L1300 1127.7L1304 1127.9L1308 1128L1312 1128.2L1316 1128.3L1320 1128.4L1324 1128.5L1328 1128.5L1332 1128.6" fill="none" stroke="#008000" stroke-width="3.6" stroke-linejoin="round"/>
<path d="M168 1123.8L172 1123.8L176 1123.8L180 1123.7L184 1123.7L188 1123.6L192 1123.6L196 1123.5L200 1123.5L204 1123.4L208 1123.4L212 1123.3L216 1123.3L220 1123.2L224 1123.2L228 1123.1L232 1123L236 1123L240 1122.9L244 1122.8L248 1122.7L252 1122.7L256 1122.6L260 1122.5L264 1122.4L268 1122.3L272 1122.3L276 1122.2L280 1122.1L284 1122L288 1121.9L292 1121.8L296 1121.7L300 1121.6L304 1121.5L308 1121.4L312 1121.2L316 1121.1L320 1121L324 1120.9L328 1120.8L332 1120.6L336 1120.5L340 1120.4L344 1120.3L348 1120.1L352 1120L356 1119.8L360 1119.7L364 1119.6L368 1119.4L372 1119.3L376 1119.1L380 1119L384 1118.8L388 1118.7L392 1118.5L396 1118.4L400 1118.2L404 1118L408 1117.9L412 1117.7L416 1117.5L420 1117.4L424 1117.2L428 1117L432 1116.9L436 1116.7L440 1116.5L444 1116.4L448 1116.2L452 1116L456 1115.9L460 1115.7L464 1115.5L468 1115.3L472 1115.2L476 1115L480 1114.8L484 1114.7L488 1114.5L492 1114.4L496 1114.2L500 1114L504 1113.9L508 1113.7L512 1113.6L516 1113.4L520 1113.3L524 1113.1L528 1113L532 1112.8L536 1112.7L540 1112.6L544 1112.4L548 1112.3L552 1112.2L556 1112.1L560 1112L564 1111.9L568 1111.7L572 1111.6L576 1111.5L580 1111.5L584 1111.4L588 1111.3L592 1111.2L596 1111.1L600 1111.1L604 1111L608 1110.9L612 1110.9L616 1110.8L620 1110.8L624 1110.8L628 1110.7L632 1110.7L636 1110.7L640 1110.7L644 1110.6L648 1110.6L652 1110.6L656 1110.6L660 1110.7L664 1110.7L668 1110.7L672 1110.7L676 1110.7L680 1110.8L684 1110.8L688 1110.8L692 1110.9L696 1110.9L700 1110.9L704 1111L708 1111L712 1111L716 1111.1L720 1111.1L724 1111.1L728 1111.1L732 1111.2L736 1111.2L740 1111.2L744 1111.1L748 1111.1L752 1111.1L756 1111L760 1111L764 1110.9L768 1110.8L772 1110.7L776 1110.5L780 1110.3L784 1110.2L788 1109.9L792 1109.7L796 1109.4L800 1109.1L804 1108.8L808 1108.5L812 1108.1L816 1107.7L820 1107.3L824 1106.8L828 1106.3L832 1105.8L836 1105.3L840 1104.7L844 1104.2L848 1103.6L852 1103L856 1102.3L860 1101.7L864 1101.1L868 1100.4L872 1099.8L876 1099.1L880 1098.5L884 1097.8L888 1097.2L892 1096.6L896 1096L900 1095.4L904 1094.8L908 1094.3L912 1093.8L916 1093.3L920 1092.8L924 1092.3L928 1091.9L932 1091.5L936 1091.1L940 1090.8L944 1090.4L948 1090.1L952 1089.8L956 1089.5L960 1089.2L964 1088.9L968 1088.6L972 1088.2L976 1087.9L980 1087.6L984 1087.3L988 1086.9L992 1086.5L996 1086.1L1000 1085.7L1004 1085.3L1008 1084.8L1012 1084.3L1016 1083.8L1020 1083.3L1024 1082.7L1028 1082.1L1032 1081.6L1036 1081L1040 1080.4L1044 1079.8L1048 1079.2L1052 1078.6L1056 1078L1060 1077.4L1064 1076.8L1068 1076.3L1072 1075.7L1076 1075.1L1080 1074.5L1084 1073.8L1088 1073.2L1092 1072.4L1096 1071.6L1100 1070.7L1104 1069.7L1108 1068.5L1112 1067.1L1116 1065.5L1120 1063.7L1124 1061.6L1128 1059.2L1132 1056.4L1136 1053.2L1140 1049.7L1144 1045.7L1148 1041.3L1152 1036.4L1156 1031L1160 1025.1L1164 1018.8L1168 1012L1172 1004.8L1176 997.2L1180 989.2L1184 980.9L1188 972.3L1192 963.6L1196 954.7L1200 945.7L1204 936.8L1208 928L1212 919.4L1216 911L1220 903L1224 895.4L1228 888.3L1232 881.7L1236 875.8L1240 870.5L1244 865.8L1248 861.9L1252 858.7L1256 856.2L1260 854.3L1264 853.2L1268 852.6L1272 852.6L1276 853L1280 853.7L1284 854.9L1288 856.6L1292 859.1L1296 862.3L1300 866.2L1304 870.8L1308 876.2L1312 882.4L1316 889.2L1320 896.7L1324 904.7L1328 913.4L1332 922.5L1336 932L1340 941.9L1344 952L1348 962.3L1352 972.7L1356 983.1L1360 993.4L1364 1003.5L1368 1013.4L1372 1023.1L1376 1032.4L1380 1041.3L1384 1049.7L1388 1057.8L1392 1065.3L1396 1072.3L1400 1078.8L1404 1084.8L1408 1090.2L1412 1095.2L1416 1099.7L1420 1103.7L1424 1107.3L1428 1110.5L1432 1113.3L1436 1115.7L1440 1117.9L1444 1119.7L1448 1121.3L1452 1122.6L1456 1123.8L1460 1124.7L1464 1125.5L1468 1126.2L1472 1126.8L1476 1127.2L1480 1127.6L1484 1127.9L1488 1128.1" fill="none" stroke="#0000ff" stroke-width="3.6" stroke-linejoin="round"/>
<path d="M168 1117.2L172 1117.2L176 1117.2L180 1117.1L184 1117.1L188 1117L192 1117L196 1116.9L200 1116.9L204 1116.8L208 1116.8L212 1116.7L216 1116.7L220 1116.6L224 1116.6L228 1116.5L232 1116.4L236 1116.4L240 1116.3L244 1116.2L248 1116.1L252 1116.1L256 1116L260 1115.9L264 1115.8L268 1115.7L272 1115.7L276 1115.6L280 1115.5L284 1115.4L288 1115.3L292 1115.2L296 1115.1L300 1115L304 1114.9L308 1114.8L312 1114.6L316 1114.5L320 1114.4L324 1114.3L328 1114.2L332 1114L336 1113.9L340 1113.8L344 1113.7L348 1113.5L352 1113.4L356 1113.2L360 1113.1L364 1113L368 1112.8L372 1112.7L376 1112.5L380 1112.4L384 1112.2L388 1112.1L392 1111.9L396 1111.8L400 1111.6L404 1111.4L408 1111.3L412 1111.1L416 1110.9L420 1110.8L424 1110.6L428 1110.4L432 1110.3L436 1110.1L440 1109.9L444 1109.8L448 1109.6L452 1109.4L456 1109.3L460 1109.1L464 1108.9L468 1108.8L472 1108.6L476 1108.4L480 1108.3L484 1108.1L488 1107.9L492 1107.8L496 1107.6L500 1107.4L504 1107.3L508 1107.1L512 1107L516 1106.8L520 1106.7L524 1106.5L528 1106.4L532 1106.3L536 1106.1L540 1106L544 1105.9L548 1105.7L552 1105.6L556 1105.5L560 1105.4L564 1105.3L568 1105.2L572 1105.1L576 1105L580 1104.9L584 1104.8L588 1104.7L592 1104.6L596 1104.6L600 1104.5L604 1104.4L608 1104.4L612 1104.3L616 1104.3L620 1104.3L624 1104.2L628 1104.2L632 1104.2L636 1104.2L640 1104.2L644 1104.2L648 1104.2L652 1104.2L656 1104.2L660 1104.2L664 1104.2L668 1104.3L672 1104.3L676 1104.3L680 1104.4L684 1104.4L688 1104.5L692 1104.5L696 1104.6L700 1104.6L704 1104.7L708 1104.8L712 1104.8L716 1104.9L720 1105L724 1105L728 1105.1L732 1105.1L736 1105.2L740 1105.2L744 1105.2L748 1105.3L752 1105.3L756 1105.3L760 1105.3L764 1105.3L768 1105.2L772 1105.2L776 1105.1L780 1105L784 1104.9L788 1104.8L792 1104.7L796 1104.5L800 1104.3L804 1104.1L808 1103.9L812 1103.6L816 1103.3L820 1103L824 1102.7L828 1102.3L832 1101.9L836 1101.5L840 1101.1L844 1100.7L848 1100.2L852 1099.7L856 1099.2L860 1098.7L864 1098.2L868 1097.7L872 1097.2L876 1096.6L880 1096.1L884 1095.6L888 1095.1L892 1094.6L896 1094.1L900 1093.6L904 1093.1L908 1092.7L912 1092.3L916 1091.9L920 1091.5L924 1091.1L928 1090.8L932 1090.4L936 1090.1L940 1089.8L944 1089.5L948 1089.3L952 1089L956 1088.7L960 1088.5L964 1088.2L968 1088L972 1087.7L976 1087.4L980 1087.1L984 1086.8L988 1086.5L992 1086.2L996 1085.8L1000 1085.4L1004 1085L1008 1084.5L1012 1084L1016 1083.5L1020 1083L1024 1082.5L1028 1081.9L1032 1081.4L1036 1080.8L1040 1080.2L1044 1079.6L1048 1079L1052 1078.4L1056 1077.8L1060 1077.2L1064 1076.6L1068 1076L1072 1075.4L1076 1074.8L1080 1074.1L1084 1073.4L1088 1072.7L1092 1071.9L1096 1071L1100 1070L1104 1068.8L1108 1067.5L1112 1066.1L1116 1064.3L1120 1062.4L1124 1060.1L1128 1057.5L1132 1054.6L1136 1051.3L1140 1047.6L1144 1043.4L1148 1038.8L1152 1033.8L1156 1028.2L1160 1022.2L1164 1015.8L1168 1008.9L1172 1001.5L1176 993.8L1180 985.7L1184 977.4L1188 968.7L1192 959.9L1196 951L1200 942.1L1204 933.2L1208 924.4L1212 915.8L1216 907.5L1220 899.5L1224 891.9L1228 884.9L1232 878.4L1236 872.5L1240 867.2L1244 862.6L1248 858.7L1252 855.6L1256 853.1L1260 851.3L1264 850.2L1268 849.6L1272 849.6L1276 850L1280 850.7L1284 851.8L1288 853.6L1292 856.1L1296 859.2L1300 863.1L1304 867.7L1308 873L1312 879.1L1316 885.9L1320 893.3L1324 901.3L1328 909.9L1332 919L1336 928.5L1340 938.3L1344 948.4L1348 958.7L1352 969L1356 979.4L1360 989.8L1364 1000L1368 1010L1372 1019.7L1376 1029.1L1380 1038.1L1384 1046.7L1388 1054.8L1392 1062.5L1396 1069.7L1400 1076.3L1404 1082.5L1408 1088.1L1412 1093.2L1416 1097.9L1420 1102.1L1424 1105.8L1428 1109.1L1432 1112.1L1436 1114.7L1440 1116.9L1444 1118.9L1448 1120.6L1452 1122L1456 1123.2L1460 1124.3L1464 1125.2L1468 1125.9L1472 1126.5L1476 1127L1480 1127.4L1484 1127.7L1488 1128" fill="none" stroke="#ff0000" stroke-width="3.6" stroke-linejoin="round"/>
<path d="M1056 1128.6L1060 1128.5L1064 1128.4L1068 1128.2L1072 1128L1076 1127.7L1080 1127.3L1084 1126.9L1088 1126.3L1092 1125.6L1096 1124.8L1100 1123.8L1104 1122.6L1108 1121.2L1112 1119.6L1116 1117.6L1120 1115.4L1124 1112.8L1128 1109.8L1132 1106.4L1136 1102.5L1140 1098.2L1144 1093.3L1148 1088L1152 1082L1156 1075.6L1160 1068.6L1164 1061L1168 1052.9L1172 1044.3L1176 1035.3L1180 1025.8L1184 1015.9L1188 1005.7L1192 995.3L1196 984.7L1200 974L1204 963.3L1208 952.7L1212 942.4L1216 932.3L1220 922.6L1224 913.3L1228 904.6L1232 896.6L1236 889.2L1240 882.6L1244 876.7L1248 871.7L1252 867.5L1256 864.1L1260 861.5L1264 859.7L1268 858.6L1272 858.1L1276 858L1280 858.4L1284 859.3L1288 861L1292 863.4L1296 866.5L1300 870.6L1304 875.4L1308 881L1312 887.5L1316 894.7L1320 902.6L1324 911.1L1328 920.2L1332 929.8L1336 939.8L1340 950.1L1344 960.6L1348 971.3L1352 982L1356 992.6L1360 1003.1L1364 1013.4L1368 1023.3L1372 1032.9L1376 1042.1L1380 1050.8L1384 1059.1L1388 1066.7L1392 1073.9L1396 1080.5L1400 1086.5L1404 1092L1408 1097L1412 1101.5L1416 1105.4L1420 1109L1424 1112L1428 1114.7L1432 1117.1L1436 1119.1L1440 1120.8L1444 1122.3L1448 1123.5L1452 1124.6L1456 1125.4L1460 1126.1L1464 1126.7L1468 1127.2L1472 1127.6L1476 1127.9L1480 1128.1L1484 1128.3L1488 1128.5L1492 1128.6" fill="none" stroke="#ff00ff" stroke-width="3.6" stroke-linejoin="round"/>
<line x1="654" y1="370.3" x2="654" y2="1108" stroke="#1e1e1e" stroke-width="7" stroke-dasharray="7 23.3"/>
<line x1="938.5" y1="361.5" x2="938.5" y2="1070" stroke="#008000" stroke-width="7" stroke-dasharray="7 23.3"/>
<line x1="1090" y1="289.5" x2="1090" y2="1124" stroke="#0000ff" stroke-width="7" stroke-dasharray="7 23.3"/>
<line x1="1283.5" y1="152.8" x2="1283.5" y2="893" stroke="#ff00ff" stroke-width="7" stroke-dasharray="7 23.5"/>
<text x="604" y="362" font-size="60" fill="#000">288.8</text>
<text x="892.5" y="351" font-size="60" fill="#008000">287.0</text>
<text x="1034" y="267.5" font-size="60" fill="#0000ff">286.0</text>
<text x="1232.5" y="142" font-size="60" fill="#ff00ff">284.7</text>
<text x="185" y="346.5" font-size="60" fill="#000">Pd/NSC-600</text>
<text x="192" y="715" font-size="60" fill="#000">Pd/NSC</text>
<text x="190" y="1069.5" font-size="60">Pd/NSC<tspan font-size="44" dy="7">ox-2</tspan></text>
<line x1="1558.8" y1="1160.7" x2="1558.8" y2="1150.7" stroke="#000" stroke-width="4.5"/>
<line x1="1404" y1="1160.7" x2="1404" y2="1143.7" stroke="#000" stroke-width="4.5"/>
<line x1="1249.2" y1="1160.7" x2="1249.2" y2="1150.7" stroke="#000" stroke-width="4.5"/>
<line x1="1094.5" y1="1160.7" x2="1094.5" y2="1143.7" stroke="#000" stroke-width="4.5"/>
<line x1="939.8" y1="1160.7" x2="939.8" y2="1150.7" stroke="#000" stroke-width="4.5"/>
<line x1="785" y1="1160.7" x2="785" y2="1143.7" stroke="#000" stroke-width="4.5"/>
<line x1="630.2" y1="1160.7" x2="630.2" y2="1150.7" stroke="#000" stroke-width="4.5"/>
<line x1="475.5" y1="1160.7" x2="475.5" y2="1143.7" stroke="#000" stroke-width="4.5"/>
<line x1="320.8" y1="1160.7" x2="320.8" y2="1150.7" stroke="#000" stroke-width="4.5"/>
<rect x="167.9" y="68.3" width="1549.7" height="1088.4" fill="none" stroke="#8c8c8c" stroke-width="3.5"/>
<rect x="163.9" y="72.3" width="1549.7" height="1088.4" fill="none" stroke="#000" stroke-width="4.6"/>
<text x="164.5" y="1225" font-size="65" fill="#000" text-anchor="middle">292</text>
<text x="474" y="1225" font-size="65" fill="#000" text-anchor="middle">290</text>
<text x="783.5" y="1225" font-size="65" fill="#000" text-anchor="middle">288</text>
<text x="1093" y="1225" font-size="65" fill="#000" text-anchor="middle">286</text>
<text x="1402.5" y="1225" font-size="65" fill="#000" text-anchor="middle">284</text>
<text x="1712" y="1225" font-size="65" fill="#000" text-anchor="middle">282</text>
<text x="973.5" y="1324" font-size="78.3" fill="#000" text-anchor="middle">Binding energy (eV)</text>
<text x="0" y="0" font-size="77.5" transform="translate(101,883.7) rotate(-90)">Intensity (a.u.)</text>
<text x="246.5" y="187" font-size="88" fill="#000" letter-spacing="3">(a)</text>
<line x1="168.3" y1="1704.8" x2="1717.1" y2="1704.8" stroke="#b0a0e0" stroke-width="3"/>
<line x1="168.3" y1="1708.3" x2="1717.1" y2="1708.3" stroke="#1c1c84" stroke-width="4"/>
<path d="M287 1707L291 1707L295 1706.9L299 1706.8L303 1706.7L307 1706.6L311 1706.5L315 1706.4L319 1706.2L323 1706.1L327 1706L331 1705.8L335 1705.7L339 1705.5L343 1705.4L347 1705.2L351 1705L355 1704.8L359 1704.6L363 1704.4L367 1704.2L371 1704L375 1703.7L379 1703.5L383 1703.2L387 1702.9L391 1702.7L395 1702.4L399 1702.1L403 1701.7L407 1701.4L411 1701.1L415 1700.7L419 1700.4L423 1700L427 1699.6L431 1699.2L435 1698.9L439 1698.4L443 1698L447 1697.6L451 1697.2L455 1696.7L459 1696.3L463 1695.8L467 1695.4L471 1694.9L475 1694.4L479 1694L483 1693.5L487 1693L491 1692.5L495 1692L499 1691.6L503 1691.1L507 1690.6L511 1690.1L515 1689.6L519 1689.2L523 1688.7L527 1688.2L531 1687.8L535 1687.3L539 1686.9L543 1686.5L547 1686L551 1685.6L555 1685.2L559 1684.9L563 1684.5L567 1684.1L571 1683.8L575 1683.5L579 1683.2L583 1682.9L587 1682.6L591 1682.3L595 1682.1L599 1681.9L603 1681.6L607 1681.4L611 1681.2L615 1681.1L619 1680.9L623 1680.7L627 1680.6L631 1680.5L635 1680.3L639 1680.2L643 1680.1L647 1680L651 1679.9L655 1679.7L659 1679.6L663 1679.5L667 1679.3L671 1679.1L675 1678.9L679 1678.7L683 1678.4L687 1678.1L691 1677.7L695 1677.2L699 1676.8L703 1676.2L707 1675.6L711 1674.9L715 1674.1L719 1673.2L723 1672.3L727 1671.3L731 1670.2L735 1669L739 1667.7L743 1666.4L747 1665L751 1663.5L755 1661.9L759 1660.3L763 1658.6L767 1656.8L771 1655L775 1653.2L779 1651.4L783 1649.6L787 1647.7L791 1645.9L795 1644L799 1642.3L803 1640.5L807 1638.8L811 1637.2L815 1635.6L819 1634.1L823 1632.6L827 1631.3L831 1630L835 1628.8L839 1627.7L843 1626.7L847 1625.8L851 1625L855 1624.2L859 1623.5L863 1622.9L867 1622.4L871 1621.8L875 1621.4L879 1620.9L883 1620.5L887 1620.1L891 1619.6L895 1619.2L899 1618.7L903 1618.2L907 1617.7L911 1617.1L915 1616.5L919 1615.8L923 1615.1L927 1614.2L931 1613.3L935 1612.4L939 1611.3L943 1610.2L947 1609L951 1607.8L955 1606.4L959 1605.1L963 1603.6L967 1602.2L971 1600.6L975 1599.1L979 1597.5L983 1595.9L987 1594.3L991 1592.7L995 1591.1L999 1589.6L1003 1588L1007 1586.5L1011 1585L1015 1583.6L1019 1582.2L1023 1580.9L1027 1579.7L1031 1578.6L1035 1577.5L1039 1576.5L1043 1575.6L1047 1574.8L1051 1574.1L1055 1573.6L1059 1573.1L1063 1572.7L1067 1572.4L1071 1572.3L1075 1572.2L1079 1572.2L1083 1572.3L1087 1572.4L1091 1572.6L1095 1572.9L1099 1573.2L1103 1573.6L1107 1574.1L1111 1574.6L1115 1575.2L1119 1575.8L1123 1576.5L1127 1577.2L1131 1577.9L1135 1578.7L1139 1579.5L1143 1580.3L1147 1581.2L1151 1582.1L1155 1582.9L1159 1583.8L1163 1584.7L1167 1585.6L1171 1586.5L1175 1587.4L1179 1588.3L1183 1589.2L1187 1590L1191 1590.9L1195 1591.7L1199 1592.5L1203 1593.3L1207 1594L1211 1594.8L1215 1595.5L1219 1596.2L1223 1596.9L1227 1597.6L1231 1598.2L1235 1598.9L1239 1599.5L1243 1600.1L1247 1600.7L1251 1601.4L1255 1602L1259 1602.6L1263 1603.3L1267 1603.9L1271 1604.6L1275 1605.3L1279 1606L1283 1606.8L1287 1607.6L1291 1608.4L1295 1609.3L1299 1610.3L1303 1611.2L1307 1612.3L1311 1613.4L1315 1614.5L1319 1615.7L1323 1617L1327 1618.3L1331 1619.7L1335 1621.2L1339 1622.7L1343 1624.3L1347 1625.9L1351 1627.6L1355 1629.4L1359 1631.2L1363 1633.1L1367 1635L1371 1636.9L1375 1638.9L1379 1640.9L1383 1642.9L1387 1645L1391 1647.1L1395 1649.2L1399 1651.3L1403 1653.4L1407 1655.5L1411 1657.6L1415 1659.7L1419 1661.8L1423 1663.8L1427 1665.8L1431 1667.8L1435 1669.8L1439 1671.7L1443 1673.6L1447 1675.4L1451 1677.2L1455 1678.9L1459 1680.6L1463 1682.2L1467 1683.8L1471 1685.3L1475 1686.7L1479 1688.1L1483 1689.4L1487 1690.7L1491 1691.9L1495 1693L1499 1694.1L1503 1695.1L1507 1696.1L1511 1697L1515 1697.9L1519 1698.7L1523 1699.5L1527 1700.2L1531 1700.8L1535 1701.5L1539 1702L1543 1702.6L1547 1703L1551 1703.5L1555 1703.9L1559 1704.3L1563 1704.7L1567 1705L1571 1705.3L1575 1705.6L1579 1705.8L1583 1706L1587 1706.2L1591 1706.4L1595 1706.6L1599 1706.7L1603 1706.9L1607 1707" fill="none" stroke="#ff0000" stroke-width="3.6" stroke-linejoin="round"/>
<path d="M243 1707.6L247 1707.6L251 1707.5L255 1707.5L259 1707.4L263 1707.4L267 1707.3L271 1707.3L275 1707.2L279 1707.2L283 1707.1L287 1707L291 1707L295 1706.9L299 1706.8L303 1706.7L307 1706.6L311 1706.5L315 1706.4L319 1706.2L323 1706.1L327 1706L331 1705.8L335 1705.7L339 1705.5L343 1705.4L347 1705.2L351 1705L355 1704.8L359 1704.6L363 1704.4L367 1704.2L371 1704L375 1703.7L379 1703.5L383 1703.2L387 1702.9L391 1702.7L395 1702.4L399 1702.1L403 1701.7L407 1701.4L411 1701.1L415 1700.7L419 1700.4L423 1700L427 1699.6L431 1699.3L435 1698.9L439 1698.4L443 1698L447 1697.6L451 1697.2L455 1696.7L459 1696.3L463 1695.8L467 1695.4L471 1694.9L475 1694.4L479 1694L483 1693.5L487 1693L491 1692.5L495 1692L499 1691.6L503 1691.1L507 1690.6L511 1690.1L515 1689.6L519 1689.2L523 1688.7L527 1688.3L531 1687.8L535 1687.4L539 1686.9L543 1686.5L547 1686.1L551 1685.7L555 1685.3L559 1684.9L563 1684.6L567 1684.2L571 1683.9L575 1683.6L579 1683.3L583 1683L587 1682.8L591 1682.6L595 1682.4L599 1682.2L603 1682L607 1681.9L611 1681.7L615 1681.6L619 1681.6L623 1681.5L627 1681.5L631 1681.5L635 1681.5L639 1681.6L643 1681.7L647 1681.8L651 1682L655 1682.2L659 1682.4L663 1682.6L667 1682.9L671 1683.2L675 1683.5L679 1683.9L683 1684.3L687 1684.7L691 1685.1L695 1685.5L699 1686L703 1686.5L707 1686.9L711 1687.4L715 1688L719 1688.5L723 1689L727 1689.6L731 1690.1L735 1690.7L739 1691.2L743 1691.8L747 1692.3L751 1692.9L755 1693.5L759 1694L763 1694.6L767 1695.1L771 1695.6L775 1696.2L779 1696.7L783 1697.2L787 1697.7L791 1698.2L795 1698.7L799 1699.1L803 1699.6L807 1700L811 1700.4L815 1700.8L819 1701.2L823 1701.6L827 1702L831 1702.3L835 1702.7L839 1703L843 1703.3L847 1703.6L851 1703.9L855 1704.2L859 1704.4L863 1704.7L867 1704.9L871 1705.1L875 1705.3L879 1705.5L883 1705.7L887 1705.9L891 1706L895 1706.2L899 1706.3L903 1706.4L907 1706.6L911 1706.7L915 1706.8L919 1706.9L923 1707L927 1707.1L931 1707.2L935 1707.2L939 1707.3L943 1707.4L947 1707.4L951 1707.5L955 1707.5L959 1707.6L963 1707.6" fill="none" stroke="#000080" stroke-width="3.6" stroke-linejoin="round"/>
<path d="M615 1707.7L619 1707.6L623 1707.5L627 1707.4L631 1707.3L635 1707.2L639 1707.1L643 1706.9L647 1706.7L651 1706.5L655 1706.3L659 1706L663 1705.7L667 1705.3L671 1705L675 1704.5L679 1704L683 1703.5L687 1702.9L691 1702.3L695 1701.6L699 1700.8L703 1699.9L707 1699L711 1698.1L715 1697L719 1695.9L723 1694.7L727 1693.4L731 1692.1L735 1690.7L739 1689.2L743 1687.7L747 1686.2L751 1684.6L755 1682.9L759 1681.2L763 1679.6L767 1677.9L771 1676.2L775 1674.5L779 1672.8L783 1671.2L787 1669.6L791 1668.1L795 1666.7L799 1665.4L803 1664.2L807 1663L811 1662L815 1661.2L819 1660.4L823 1659.8L827 1659.4L831 1659.1L835 1659L839 1659L843 1659.2L847 1659.6L851 1660.1L855 1660.8L859 1661.6L863 1662.5L867 1663.6L871 1664.8L875 1666L879 1667.4L883 1668.9L887 1670.4L891 1672L895 1673.6L899 1675.3L903 1677L907 1678.7L911 1680.4L915 1682.1L919 1683.7L923 1685.4L927 1687L931 1688.5L935 1690L939 1691.4L943 1692.8L947 1694.1L951 1695.3L955 1696.4L959 1697.5L963 1698.6L967 1699.5L971 1700.4L975 1701.2L979 1701.9L983 1702.6L987 1703.2L991 1703.8L995 1704.3L999 1704.7L1003 1705.2L1007 1705.5L1011 1705.8L1015 1706.1L1019 1706.4L1023 1706.6L1027 1706.8L1031 1707L1035 1707.1L1039 1707.3L1043 1707.4L1047 1707.5L1051 1707.6L1055 1707.6" fill="none" stroke="#008000" stroke-width="3.6" stroke-linejoin="round"/>
<path d="M631 1707.6L635 1707.6L639 1707.5L643 1707.5L647 1707.4L651 1707.4L655 1707.3L659 1707.2L663 1707.1L667 1707.1L671 1707L675 1706.9L679 1706.7L683 1706.6L687 1706.5L691 1706.3L695 1706.2L699 1706L703 1705.8L707 1705.6L711 1705.4L715 1705.1L719 1704.9L723 1704.6L727 1704.3L731 1704L735 1703.6L739 1703.3L743 1702.9L747 1702.4L751 1702L755 1701.5L759 1701L763 1700.4L767 1699.9L771 1699.2L775 1698.6L779 1697.9L783 1697.2L787 1696.4L791 1695.5L795 1694.7L799 1693.8L803 1692.8L807 1691.8L811 1690.7L815 1689.6L819 1688.4L823 1687.2L827 1685.9L831 1684.6L835 1683.2L839 1681.7L843 1680.2L847 1678.6L851 1677L855 1675.3L859 1673.6L863 1671.8L867 1669.9L871 1668L875 1666L879 1664L883 1661.9L887 1659.8L891 1657.6L895 1655.4L899 1653.1L903 1650.8L907 1648.4L911 1646.1L915 1643.6L919 1641.2L923 1638.7L927 1636.2L931 1633.7L935 1631.2L939 1628.6L943 1626.1L947 1623.6L951 1621L955 1618.5L959 1616L963 1613.5L967 1611.1L971 1608.6L975 1606.3L979 1603.9L983 1601.6L987 1599.4L991 1597.2L995 1595.1L999 1593.1L1003 1591.2L1007 1589.3L1011 1587.5L1015 1585.8L1019 1584.2L1023 1582.7L1027 1581.4L1031 1580.1L1035 1578.9L1039 1577.9L1043 1576.9L1047 1576.1L1051 1575.5L1055 1574.9L1059 1574.5L1063 1574.2L1067 1574L1071 1574L1075 1574.1L1079 1574.2L1083 1574.5L1087 1574.9L1091 1575.3L1095 1575.9L1099 1576.5L1103 1577.3L1107 1578.1L1111 1579L1115 1580.1L1119 1581.1L1123 1582.3L1127 1583.6L1131 1584.9L1135 1586.3L1139 1587.8L1143 1589.3L1147 1591L1151 1592.6L1155 1594.4L1159 1596.2L1163 1598L1167 1599.9L1171 1601.8L1175 1603.8L1179 1605.8L1183 1607.9L1187 1610L1191 1612.1L1195 1614.2L1199 1616.3L1203 1618.5L1207 1620.7L1211 1622.9L1215 1625.1L1219 1627.3L1223 1629.5L1227 1631.7L1231 1633.8L1235 1636L1239 1638.2L1243 1640.3L1247 1642.5L1251 1644.6L1255 1646.7L1259 1648.7L1263 1650.7L1267 1652.7L1271 1654.7L1275 1656.7L1279 1658.6L1283 1660.4L1287 1662.3L1291 1664.1L1295 1665.8L1299 1667.5L1303 1669.2L1307 1670.8L1311 1672.4L1315 1674L1319 1675.5L1323 1676.9L1327 1678.3L1331 1679.7L1335 1681L1339 1682.3L1343 1683.6L1347 1684.7L1351 1685.9L1355 1687L1359 1688.1L1363 1689.1L1367 1690.1L1371 1691.1L1375 1692L1379 1692.8L1383 1693.7L1387 1694.5L1391 1695.2L1395 1696L1399 1696.7L1403 1697.3L1407 1698L1411 1698.6L1415 1699.1L1419 1699.7L1423 1700.2L1427 1700.7L1431 1701.2L1435 1701.6L1439 1702L1443 1702.4L1447 1702.8L1451 1703.1L1455 1703.5L1459 1703.8L1463 1704.1L1467 1704.3L1471 1704.6L1475 1704.8L1479 1705.1L1483 1705.3L1487 1705.5L1491 1705.7L1495 1705.8L1499 1706L1503 1706.1L1507 1706.3L1511 1706.4L1515 1706.5L1519 1706.7L1523 1706.8L1527 1706.9L1531 1707L1535 1707L1539 1707.1L1543 1707.2L1547 1707.3L1551 1707.3L1555 1707.4L1559 1707.4L1563 1707.5L1567 1707.5L1571 1707.6L1575 1707.6" fill="none" stroke="#0000ff" stroke-width="3.6" stroke-linejoin="round"/>
<path d="M1027 1707.6L1031 1707.5L1035 1707.5L1039 1707.4L1043 1707.3L1047 1707.2L1051 1707.1L1055 1707L1059 1706.9L1063 1706.8L1067 1706.6L1071 1706.5L1075 1706.3L1079 1706.1L1083 1705.8L1087 1705.6L1091 1705.3L1095 1705L1099 1704.7L1103 1704.4L1107 1704L1111 1703.6L1115 1703.1L1119 1702.7L1123 1702.2L1127 1701.6L1131 1701L1135 1700.4L1139 1699.7L1143 1699L1147 1698.2L1151 1697.4L1155 1696.6L1159 1695.7L1163 1694.7L1167 1693.7L1171 1692.7L1175 1691.6L1179 1690.5L1183 1689.3L1187 1688.1L1191 1686.8L1195 1685.5L1199 1684.1L1203 1682.8L1207 1681.3L1211 1679.9L1215 1678.4L1219 1676.9L1223 1675.4L1227 1673.9L1231 1672.4L1235 1670.8L1239 1669.3L1243 1667.8L1247 1666.3L1251 1664.8L1255 1663.3L1259 1661.9L1263 1660.5L1267 1659.2L1271 1657.9L1275 1656.6L1279 1655.5L1283 1654.4L1287 1653.3L1291 1652.4L1295 1651.5L1299 1650.7L1303 1650L1307 1649.4L1311 1649L1315 1648.6L1319 1648.3L1323 1648.1L1327 1648L1331 1648L1335 1648.2L1339 1648.4L1343 1648.7L1347 1649.2L1351 1649.7L1355 1650.4L1359 1651.1L1363 1651.9L1367 1652.8L1371 1653.8L1375 1654.9L1379 1656.1L1383 1657.3L1387 1658.5L1391 1659.8L1395 1661.2L1399 1662.6L1403 1664.1L1407 1665.5L1411 1667L1415 1668.6L1419 1670.1L1423 1671.6L1427 1673.1L1431 1674.7L1435 1676.2L1439 1677.7L1443 1679.2L1447 1680.6L1451 1682L1455 1683.4L1459 1684.8L1463 1686.1L1467 1687.4L1471 1688.7L1475 1689.9L1479 1691L1483 1692.1L1487 1693.2L1491 1694.2L1495 1695.2L1499 1696.1L1503 1697L1507 1697.8L1511 1698.6L1515 1699.4L1519 1700L1523 1700.7L1527 1701.3L1531 1701.9L1535 1702.4L1539 1702.9L1543 1703.4L1547 1703.8L1551 1704.2L1555 1704.5L1559 1704.9L1563 1705.2L1567 1705.5L1571 1705.7L1575 1706L1579 1706.2L1583 1706.4L1587 1706.5L1591 1706.7L1595 1706.8L1599 1707L1603 1707.1L1607 1707.2L1611 1707.3L1615 1707.4L1619 1707.4L1623 1707.5L1627 1707.6L1631 1707.6" fill="none" stroke="#ff00ff" stroke-width="3.6" stroke-linejoin="round"/>
<path d="M172 1707.8L184.9 1701.8L197.8 1702.4L210.7 1710.1L223.6 1709.1L236.5 1710L249.4 1705L262.3 1707.7L275.2 1703.9L288.1 1715.3L301 1699.7L313.9 1706.8L326.8 1702.9L339.7 1706.1L352.6 1706.6L365.5 1702.2L378.4 1699.8L391.3 1703.5L404.2 1702.3L417.1 1697.5L430 1703.3L442.9 1704.9L455.8 1694.9L468.7 1698.2L481.6 1702.3L494.5 1695.8L507.4 1692.6L520.3 1694.4L533.2 1694.2L546.1 1686L559 1680.8L571.9 1684.8L584.8 1686.1L597.7 1680.2L610.6 1678L623.5 1681.9L636.4 1677.4L649.3 1674.2L662.2 1678.1L675.1 1678.2L688 1669.1L700.9 1664.8L713.8 1655.9L726.7 1662.2L739.6 1656.1L752.5 1654.4L765.4 1656.3L778.3 1645.4L791.2 1640.1L804.1 1641.8L817 1627.9L829.9 1626.4L842.8 1623.8L855.7 1622L868.6 1617.2L881.5 1625L894.4 1613L907.3 1608.5L920.2 1613L933.1 1596.2L946 1591.2L958.9 1579.4L971.8 1578.4L984.7 1571.1L997.6 1565.8L1010.5 1570.4L1023.4 1565.1L1036.3 1570.3L1049.2 1568.9L1062.1 1574L1075 1567L1087.9 1569.6L1100.8 1574.2L1113.7 1572.2L1126.6 1571.5L1139.5 1571.7L1152.4 1589.7L1165.3 1581.8L1178.2 1587L1191.1 1593L1204 1600.7L1216.9 1594.3L1229.8 1609.5L1242.7 1605.2L1255.6 1605.7L1268.5 1622.3L1281.4 1619.7L1294.3 1627L1307.2 1622.5L1320.1 1619.3L1333 1619.6L1345.9 1639.9L1358.8 1638.4L1371.7 1637.2L1384.6 1638.7L1397.5 1649.8L1410.4 1661.3L1423.3 1663L1436.2 1670.6L1449.1 1677.3L1462 1685.1L1474.9 1684.9L1487.8 1689.5L1500.7 1695L1513.6 1698.6L1526.5 1705.9L1539.4 1704.3L1552.3 1698.4L1565.2 1706L1578.1 1712.8L1591 1701.4L1603.9 1706.1L1616.8 1699.9L1629.7 1709.9L1642.6 1712.7L1655.5 1717.3L1668.4 1704.6L1681.3 1698.6L1694.2 1713.3L1707.1 1712" fill="none" stroke="#000000" stroke-width="3" stroke-linejoin="round"/>
<line x1="168.3" y1="2067.3" x2="1717.1" y2="2067.3" stroke="#7070c8" stroke-width="3"/>
<line x1="168.3" y1="2070.8" x2="1717.1" y2="2070.8" stroke="#3c3cb0" stroke-width="4"/>
<line x1="168.3" y1="2073.8" x2="1717.1" y2="2073.8" stroke="#5858b8" stroke-width="2.5"/>
<path d="M411 2069.6L415 2069.4L419 2069.3L423 2069.1L427 2068.9L431 2068.7L435 2068.5L439 2068.2L443 2067.9L447 2067.6L451 2067.2L455 2066.8L459 2066.4L463 2066L467 2065.5L471 2064.9L475 2064.4L479 2063.7L483 2063.1L487 2062.4L491 2061.6L495 2060.8L499 2060L503 2059.1L507 2058.1L511 2057.1L515 2056.1L519 2055L523 2053.9L527 2052.8L531 2051.6L535 2050.4L539 2049.2L543 2047.9L547 2046.7L551 2045.4L555 2044.1L559 2042.8L563 2041.6L567 2040.3L571 2039.1L575 2037.9L579 2036.7L583 2035.6L587 2034.5L591 2033.4L595 2032.4L599 2031.5L603 2030.6L607 2029.9L611 2029.1L615 2028.5L619 2027.9L623 2027.4L627 2027L631 2026.6L635 2026.4L639 2026.2L643 2026.1L647 2026L651 2026L655 2026.1L659 2026.2L663 2026.4L667 2026.6L671 2026.9L675 2027.1L679 2027.4L683 2027.7L687 2028L691 2028.2L695 2028.4L699 2028.6L703 2028.8L707 2028.9L711 2028.9L715 2028.9L719 2028.8L723 2028.6L727 2028.3L731 2027.9L735 2027.5L739 2026.9L743 2026.3L747 2025.5L751 2024.7L755 2023.7L759 2022.6L763 2021.5L767 2020.2L771 2018.9L775 2017.5L779 2016L783 2014.4L787 2012.7L791 2011L795 2009.2L799 2007.3L803 2005.4L807 2003.5L811 2001.5L815 1999.5L819 1997.5L823 1995.4L827 1993.4L831 1991.3L835 1989.2L839 1987.2L843 1985.1L847 1983.1L851 1981L855 1979L859 1977L863 1975L867 1973.1L871 1971.1L875 1969.3L879 1967.4L883 1965.6L887 1963.8L891 1962.1L895 1960.4L899 1958.8L903 1957.1L907 1955.5L911 1953.9L915 1952.3L919 1950.7L923 1949.2L927 1947.6L931 1946L935 1944.4L939 1942.8L943 1941.2L947 1939.6L951 1937.9L955 1936.2L959 1934.5L963 1932.8L967 1931L971 1929.2L975 1927.4L979 1925.6L983 1923.8L987 1921.9L991 1920L995 1918.1L999 1916.2L1003 1914.3L1007 1912.5L1011 1910.6L1015 1908.8L1019 1906.9L1023 1905.2L1027 1903.4L1031 1901.8L1035 1900.1L1039 1898.6L1043 1897.1L1047 1895.7L1051 1894.4L1055 1893.2L1059 1892.1L1063 1891.1L1067 1890.2L1071 1889.5L1075 1888.9L1079 1888.4L1083 1888L1087 1887.8L1091 1887.7L1095 1887.7L1099 1887.9L1103 1888.3L1107 1888.7L1111 1889.3L1115 1890.1L1119 1890.9L1123 1891.9L1127 1893L1131 1894.3L1135 1895.6L1139 1897L1143 1898.6L1147 1900.2L1151 1901.9L1155 1903.6L1159 1905.4L1163 1907.3L1167 1909.1L1171 1911L1175 1913L1179 1914.9L1183 1916.8L1187 1918.7L1191 1920.6L1195 1922.4L1199 1924.2L1203 1926L1207 1927.7L1211 1929.3L1215 1930.9L1219 1932.4L1223 1933.8L1227 1935.2L1231 1936.5L1235 1937.7L1239 1938.9L1243 1940L1247 1941L1251 1942L1255 1942.9L1259 1943.8L1263 1944.7L1267 1945.5L1271 1946.4L1275 1947.2L1279 1948.1L1283 1949L1287 1949.9L1291 1950.9L1295 1951.9L1299 1953L1303 1954.2L1307 1955.5L1311 1956.9L1315 1958.3L1319 1959.9L1323 1961.6L1327 1963.5L1331 1965.4L1335 1967.5L1339 1969.6L1343 1971.9L1347 1974.4L1351 1976.9L1355 1979.5L1359 1982.2L1363 1985L1367 1987.9L1371 1990.8L1375 1993.8L1379 1996.9L1383 2000L1387 2003L1391 2006.2L1395 2009.2L1399 2012.3L1403 2015.4L1407 2018.4L1411 2021.4L1415 2024.3L1419 2027.1L1423 2029.9L1427 2032.5L1431 2035.1L1435 2037.6L1439 2040L1443 2042.3L1447 2044.4L1451 2046.5L1455 2048.5L1459 2050.3L1463 2052.1L1467 2053.7L1471 2055.2L1475 2056.6L1479 2058L1483 2059.2L1487 2060.3L1491 2061.3L1495 2062.3L1499 2063.2L1503 2064L1507 2064.7L1511 2065.3L1515 2065.9L1519 2066.5L1523 2066.9L1527 2067.4L1531 2067.8L1535 2068.1L1539 2068.4L1543 2068.7L1547 2068.9L1551 2069.1L1555 2069.3L1559 2069.5L1563 2069.6" fill="none" stroke="#ff0000" stroke-width="3.6" stroke-linejoin="round"/>
<path d="M387 2070.1L391 2070L395 2070L399 2069.9L403 2069.8L407 2069.7L411 2069.6L415 2069.4L419 2069.3L423 2069.1L427 2068.9L431 2068.7L435 2068.5L439 2068.2L443 2067.9L447 2067.6L451 2067.2L455 2066.9L459 2066.4L463 2066L467 2065.5L471 2065L475 2064.4L479 2063.8L483 2063.1L487 2062.4L491 2061.6L495 2060.8L499 2060L503 2059.1L507 2058.2L511 2057.2L515 2056.2L519 2055.1L523 2054L527 2052.9L531 2051.7L535 2050.5L539 2049.3L543 2048.1L547 2046.9L551 2045.6L555 2044.4L559 2043.2L563 2041.9L567 2040.7L571 2039.6L575 2038.4L579 2037.3L583 2036.3L587 2035.3L591 2034.3L595 2033.4L599 2032.7L603 2031.9L607 2031.3L611 2030.8L615 2030.3L619 2030L623 2029.7L627 2029.6L631 2029.5L635 2029.6L639 2029.7L643 2030L647 2030.4L651 2030.8L655 2031.4L659 2032.1L663 2032.8L667 2033.6L671 2034.6L675 2035.5L679 2036.6L683 2037.7L687 2038.8L691 2040L695 2041.2L699 2042.5L703 2043.7L707 2045L711 2046.3L715 2047.5L719 2048.8L723 2050.1L727 2051.3L731 2052.5L735 2053.6L739 2054.8L743 2055.9L747 2056.9L751 2057.9L755 2058.9L759 2059.8L763 2060.7L767 2061.5L771 2062.3L775 2063L779 2063.7L783 2064.4L787 2065L791 2065.5L795 2066L799 2066.5L803 2066.9L807 2067.3L811 2067.6L815 2068L819 2068.3L823 2068.5L827 2068.8L831 2069L835 2069.2L839 2069.3L843 2069.5L847 2069.6L851 2069.7L855 2069.8L859 2069.9L863 2070L867 2070.1L871 2070.1" fill="none" stroke="#000080" stroke-width="3.6" stroke-linejoin="round"/>
<path d="M567 2070.1L571 2070.1L575 2070L579 2069.9L583 2069.9L587 2069.8L591 2069.7L595 2069.6L599 2069.4L603 2069.3L607 2069.1L611 2069L615 2068.8L619 2068.6L623 2068.4L627 2068.1L631 2067.8L635 2067.6L639 2067.2L643 2066.9L647 2066.5L651 2066.1L655 2065.6L659 2065.1L663 2064.6L667 2064.1L671 2063.4L675 2062.8L679 2062.1L683 2061.4L687 2060.6L691 2059.8L695 2058.9L699 2057.9L703 2057L707 2055.9L711 2054.9L715 2053.7L719 2052.5L723 2051.3L727 2050L731 2048.7L735 2047.4L739 2046L743 2044.5L747 2043.1L751 2041.5L755 2040L759 2038.5L763 2036.9L767 2035.3L771 2033.7L775 2032.1L779 2030.5L783 2028.9L787 2027.3L791 2025.8L795 2024.3L799 2022.8L803 2021.3L807 2019.9L811 2018.6L815 2017.3L819 2016.1L823 2014.9L827 2013.9L831 2012.9L835 2012L839 2011.2L843 2010.5L847 2009.9L851 2009.4L855 2009L859 2008.7L863 2008.6L867 2008.5L871 2008.6L875 2008.8L879 2009.1L883 2009.5L887 2010.1L891 2010.8L895 2011.6L899 2012.6L903 2013.6L907 2014.7L911 2015.9L915 2017.3L919 2018.6L923 2020.1L927 2021.6L931 2023.2L935 2024.8L939 2026.5L943 2028.2L947 2029.9L951 2031.6L955 2033.3L959 2035.1L963 2036.8L967 2038.5L971 2040.2L975 2041.8L979 2043.4L983 2045L987 2046.6L991 2048L995 2049.5L999 2050.9L1003 2052.2L1007 2053.5L1011 2054.7L1015 2055.9L1019 2057L1023 2058.1L1027 2059.1L1031 2060L1035 2060.9L1039 2061.7L1043 2062.5L1047 2063.2L1051 2063.9L1055 2064.5L1059 2065.1L1063 2065.6L1067 2066.1L1071 2066.5L1075 2066.9L1079 2067.3L1083 2067.7L1087 2068L1091 2068.2L1095 2068.5L1099 2068.7L1103 2068.9L1107 2069.1L1111 2069.3L1115 2069.4L1119 2069.6L1123 2069.7L1127 2069.8L1131 2069.9L1135 2070L1139 2070L1143 2070.1L1147 2070.2" fill="none" stroke="#008000" stroke-width="3.6" stroke-linejoin="round"/>
<path d="M651 2070.1L655 2070.1L659 2070L663 2070L667 2069.9L671 2069.9L675 2069.8L679 2069.7L683 2069.6L687 2069.5L691 2069.4L695 2069.3L699 2069.2L703 2069.1L707 2068.9L711 2068.8L715 2068.6L719 2068.4L723 2068.2L727 2068L731 2067.7L735 2067.5L739 2067.2L743 2066.9L747 2066.5L751 2066.2L755 2065.8L759 2065.4L763 2064.9L767 2064.4L771 2063.9L775 2063.3L779 2062.7L783 2062.1L787 2061.4L791 2060.7L795 2059.9L799 2059.1L803 2058.2L807 2057.3L811 2056.3L815 2055.3L819 2054.2L823 2053L827 2051.8L831 2050.5L835 2049.1L839 2047.6L843 2046.1L847 2044.6L851 2042.9L855 2041.2L859 2039.3L863 2037.5L867 2035.5L871 2033.4L875 2031.3L879 2029.1L883 2026.8L887 2024.4L891 2022L895 2019.4L899 2016.8L903 2014.1L907 2011.4L911 2008.5L915 2005.6L919 2002.6L923 1999.6L927 1996.5L931 1993.3L935 1990.1L939 1986.9L943 1983.6L947 1980.2L951 1976.8L955 1973.4L959 1970L963 1966.5L967 1963.1L971 1959.6L975 1956.1L979 1952.7L983 1949.2L987 1945.8L991 1942.5L995 1939.1L999 1935.8L1003 1932.6L1007 1929.5L1011 1926.4L1015 1923.4L1019 1920.4L1023 1917.6L1027 1914.9L1031 1912.3L1035 1909.8L1039 1907.4L1043 1905.2L1047 1903.1L1051 1901.1L1055 1899.3L1059 1897.7L1063 1896.2L1067 1894.9L1071 1893.7L1075 1892.8L1079 1891.9L1083 1891.3L1087 1890.9L1091 1890.6L1095 1890.5L1099 1890.6L1103 1890.9L1107 1891.3L1111 1891.9L1115 1892.8L1119 1893.7L1123 1894.9L1127 1896.2L1131 1897.7L1135 1899.3L1139 1901.1L1143 1903.1L1147 1905.2L1151 1907.4L1155 1909.8L1159 1912.3L1163 1914.9L1167 1917.6L1171 1920.4L1175 1923.4L1179 1926.4L1183 1929.5L1187 1932.6L1191 1935.8L1195 1939.1L1199 1942.5L1203 1945.8L1207 1949.2L1211 1952.7L1215 1956.1L1219 1959.6L1223 1963.1L1227 1966.5L1231 1970L1235 1973.4L1239 1976.8L1243 1980.2L1247 1983.6L1251 1986.9L1255 1990.1L1259 1993.3L1263 1996.5L1267 1999.6L1271 2002.6L1275 2005.6L1279 2008.5L1283 2011.4L1287 2014.1L1291 2016.8L1295 2019.4L1299 2022L1303 2024.4L1307 2026.8L1311 2029.1L1315 2031.3L1319 2033.4L1323 2035.5L1327 2037.5L1331 2039.3L1335 2041.2L1339 2042.9L1343 2044.6L1347 2046.1L1351 2047.6L1355 2049.1L1359 2050.5L1363 2051.8L1367 2053L1371 2054.2L1375 2055.3L1379 2056.3L1383 2057.3L1387 2058.2L1391 2059.1L1395 2059.9L1399 2060.7L1403 2061.4L1407 2062.1L1411 2062.7L1415 2063.3L1419 2063.9L1423 2064.4L1427 2064.9L1431 2065.4L1435 2065.8L1439 2066.2L1443 2066.5L1447 2066.9L1451 2067.2L1455 2067.5L1459 2067.7L1463 2068L1467 2068.2L1471 2068.4L1475 2068.6L1479 2068.8L1483 2068.9L1487 2069.1L1491 2069.2L1495 2069.3L1499 2069.4L1503 2069.5L1507 2069.6L1511 2069.7L1515 2069.8L1519 2069.9L1523 2069.9L1527 2070L1531 2070L1535 2070.1L1539 2070.1" fill="none" stroke="#0000ff" stroke-width="3.6" stroke-linejoin="round"/>
<path d="M1079 2070.1L1083 2070L1087 2069.9L1091 2069.9L1095 2069.7L1099 2069.6L1103 2069.5L1107 2069.3L1111 2069.1L1115 2068.9L1119 2068.6L1123 2068.4L1127 2068L1131 2067.7L1135 2067.3L1139 2066.9L1143 2066.4L1147 2065.8L1151 2065.2L1155 2064.6L1159 2063.8L1163 2063.1L1167 2062.2L1171 2061.2L1175 2060.2L1179 2059.1L1183 2057.9L1187 2056.7L1191 2055.3L1195 2053.9L1199 2052.3L1203 2050.7L1207 2049L1211 2047.2L1215 2045.3L1219 2043.3L1223 2041.3L1227 2039.2L1231 2037L1235 2034.8L1239 2032.6L1243 2030.3L1247 2027.9L1251 2025.6L1255 2023.3L1259 2021L1263 2018.7L1267 2016.4L1271 2014.2L1275 2012.1L1279 2010.1L1283 2008.1L1287 2006.3L1291 2004.6L1295 2003L1299 2001.6L1303 2000.3L1307 1999.2L1311 1998.3L1315 1997.5L1319 1997L1323 1996.7L1327 1996.5L1331 1996.6L1335 1996.8L1339 1997.3L1343 1997.9L1347 1998.7L1351 1999.7L1355 2000.9L1359 2002.3L1363 2003.8L1367 2005.4L1371 2007.2L1375 2009.1L1379 2011.1L1383 2013.2L1387 2015.3L1391 2017.5L1395 2019.8L1399 2022.1L1403 2024.5L1407 2026.8L1411 2029.1L1415 2031.4L1419 2033.7L1423 2035.9L1427 2038.1L1431 2040.3L1435 2042.3L1439 2044.3L1443 2046.2L1447 2048.1L1451 2049.8L1455 2051.5L1459 2053.1L1463 2054.6L1467 2056L1471 2057.3L1475 2058.5L1479 2059.7L1483 2060.7L1487 2061.7L1491 2062.6L1495 2063.5L1499 2064.2L1503 2064.9L1507 2065.5L1511 2066.1L1515 2066.6L1519 2067.1L1523 2067.5L1527 2067.9L1531 2068.2L1535 2068.5L1539 2068.8L1543 2069L1547 2069.2L1551 2069.4L1555 2069.5L1559 2069.7L1563 2069.8L1567 2069.9L1571 2070L1575 2070.1L1579 2070.1" fill="none" stroke="#ff00ff" stroke-width="3.6" stroke-linejoin="round"/>
<path d="M172 2062.8L184.9 2068.5L197.8 2065.2L210.7 2064.8L223.6 2061.5L236.5 2056.7L249.4 2060.8L262.3 2056.1L275.2 2061.6L288.1 2057.7L301 2068.5L313.9 2065.1L326.8 2054.9L339.7 2061.1L352.6 2056L365.5 2056.4L378.4 2053.2L391.3 2055.9L404.2 2055.3L417.1 2060.6L430 2063.4L442.9 2063.5L455.8 2062L468.7 2064.2L481.6 2060.4L494.5 2056.6L507.4 2052.9L520.3 2052.8L533.2 2056.7L546.1 2044.9L559 2039.8L571.9 2032.2L584.8 2030.8L597.7 2033L610.6 2030.3L623.5 2015.4L636.4 2018.7L649.3 2011.9L662.2 2008.9L675.1 2020.6L688 2013.9L700.9 2012.6L713.8 2011.4L726.7 2011L739.6 2012L752.5 2011.3L765.4 2017.5L778.3 2009.2L791.2 2008.4L804.1 1999.9L817 1996.8L829.9 1985.1L842.8 1976.4L855.7 1970.3L868.6 1961.3L881.5 1953.3L894.4 1947.1L907.3 1938L920.2 1932.6L933.1 1922.9L946 1919.8L958.9 1913L971.8 1917.3L984.7 1902.7L997.6 1905.1L1010.5 1899.8L1023.4 1892.5L1036.3 1890.2L1049.2 1883.6L1062.1 1886.1L1075 1888.1L1087.9 1888L1100.8 1880.2L1113.7 1888.7L1126.6 1898.1L1139.5 1897.7L1152.4 1910.6L1165.3 1902.2L1178.2 1924.2L1191.1 1922.5L1204 1929.3L1216.9 1945L1229.8 1943.2L1242.7 1945.3L1255.6 1952L1268.5 1956.5L1281.4 1956.6L1294.3 1963.1L1307.2 1965.8L1320.1 1972.3L1333 1974.6L1345.9 1988.9L1358.8 1989.5L1371.7 2004.6L1384.6 2016.7L1397.5 2019.2L1410.4 2021.4L1423.3 2032.1L1436.2 2045.1L1449.1 2045.3L1462 2055.4L1474.9 2058.1L1487.8 2060.5L1500.7 2074.1L1513.6 2064.9L1526.5 2072L1539.4 2071.6L1552.3 2075.8L1565.2 2076.5L1578.1 2074.2L1591 2066.5L1603.9 2062.8L1616.8 2070.5L1629.7 2065.5L1642.6 2071.7L1655.5 2079.1L1668.4 2069.8L1681.3 2068.5L1694.2 2072.4L1707.1 2069.1" fill="none" stroke="#000000" stroke-width="3" stroke-linejoin="round"/>
<line x1="168.3" y1="2431.3" x2="1717.1" y2="2431.3" stroke="#c0c0e0" stroke-width="3"/>
<line x1="168.3" y1="2434.8" x2="1717.1" y2="2434.8" stroke="#16167c" stroke-width="4"/>
<line x1="168.3" y1="2437.8" x2="1717.1" y2="2437.8" stroke="#c8ccd8" stroke-width="2.5"/>
<path d="M359 2433.5L363 2433.4L367 2433.2L371 2433.1L375 2432.9L379 2432.7L383 2432.5L387 2432.3L391 2432.1L395 2431.8L399 2431.5L403 2431.2L407 2430.9L411 2430.5L415 2430.1L419 2429.7L423 2429.2L427 2428.7L431 2428.2L435 2427.6L439 2427L443 2426.3L447 2425.6L451 2424.9L455 2424.1L459 2423.3L463 2422.5L467 2421.5L471 2420.6L475 2419.6L479 2418.6L483 2417.5L487 2416.3L491 2415.2L495 2414L499 2412.7L503 2411.4L507 2410.1L511 2408.8L515 2407.4L519 2406L523 2404.6L527 2403.1L531 2401.6L535 2400.2L539 2398.7L543 2397.2L547 2395.7L551 2394.2L555 2392.7L559 2391.2L563 2389.8L567 2388.3L571 2386.9L575 2385.5L579 2384.2L583 2382.9L587 2381.6L591 2380.4L595 2379.2L599 2378L603 2376.9L607 2375.9L611 2374.9L615 2373.9L619 2373L623 2372.1L627 2371.3L631 2370.6L635 2369.9L639 2369.2L643 2368.6L647 2368L651 2367.4L655 2366.9L659 2366.4L663 2365.9L667 2365.4L671 2364.9L675 2364.4L679 2364L683 2363.5L687 2363L691 2362.4L695 2361.9L699 2361.3L703 2360.7L707 2360L711 2359.3L715 2358.5L719 2357.6L723 2356.7L727 2355.8L731 2354.7L735 2353.6L739 2352.3L743 2351L747 2349.7L751 2348.2L755 2346.6L759 2344.9L763 2343.2L767 2341.3L771 2339.4L775 2337.4L779 2335.2L783 2333L787 2330.7L791 2328.3L795 2325.9L799 2323.3L803 2320.7L807 2318L811 2315.2L815 2312.3L819 2309.4L823 2306.4L827 2303.4L831 2300.3L835 2297.2L839 2294L843 2290.7L847 2287.5L851 2284.2L855 2280.8L859 2277.4L863 2274.1L867 2270.6L871 2267.2L875 2263.8L879 2260.3L883 2256.8L887 2253.3L891 2249.9L895 2246.4L899 2242.9L903 2239.4L907 2235.9L911 2232.5L915 2229L919 2225.6L923 2222.2L927 2218.8L931 2215.5L935 2212.1L939 2208.8L943 2205.6L947 2202.3L951 2199.2L955 2196L959 2192.9L963 2189.9L967 2186.9L971 2184L975 2181.1L979 2178.3L983 2175.6L987 2173L991 2170.4L995 2168L999 2165.6L1003 2163.4L1007 2161.2L1011 2159.2L1015 2157.2L1019 2155.4L1023 2153.7L1027 2152.2L1031 2150.8L1035 2149.5L1039 2148.4L1043 2147.4L1047 2146.6L1051 2146L1055 2145.5L1059 2145.2L1063 2145L1067 2145.1L1071 2145.3L1075 2145.6L1079 2146.2L1083 2146.9L1087 2147.9L1091 2149L1095 2150.2L1099 2151.7L1103 2153.3L1107 2155.1L1111 2157.1L1115 2159.2L1119 2161.5L1123 2163.9L1127 2166.4L1131 2169.1L1135 2171.9L1139 2174.8L1143 2177.9L1147 2181L1151 2184.1L1155 2187.4L1159 2190.7L1163 2194L1167 2197.4L1171 2200.8L1175 2204.1L1179 2207.5L1183 2210.8L1187 2214.1L1191 2217.3L1195 2220.4L1199 2223.5L1203 2226.5L1207 2229.3L1211 2232.1L1215 2234.8L1219 2237.3L1223 2239.7L1227 2242L1231 2244.1L1235 2246.1L1239 2248L1243 2249.8L1247 2251.5L1251 2253.1L1255 2254.6L1259 2256L1263 2257.4L1267 2258.7L1271 2260L1275 2261.3L1279 2262.6L1283 2264L1287 2265.4L1291 2266.8L1295 2268.4L1299 2270L1303 2271.8L1307 2273.7L1311 2275.8L1315 2278L1319 2280.4L1323 2282.9L1327 2285.7L1331 2288.6L1335 2291.7L1339 2295L1343 2298.5L1347 2302.1L1351 2306L1355 2309.9L1359 2314L1363 2318.2L1367 2322.5L1371 2326.9L1375 2331.4L1379 2335.9L1383 2340.5L1387 2345L1391 2349.6L1395 2354.1L1399 2358.5L1403 2362.9L1407 2367.3L1411 2371.5L1415 2375.6L1419 2379.6L1423 2383.4L1427 2387.1L1431 2390.7L1435 2394.1L1439 2397.3L1443 2400.3L1447 2403.2L1451 2405.9L1455 2408.5L1459 2410.9L1463 2413.1L1467 2415.1L1471 2417L1475 2418.8L1479 2420.4L1483 2421.9L1487 2423.2L1491 2424.5L1495 2425.6L1499 2426.6L1503 2427.5L1507 2428.3L1511 2429L1515 2429.7L1519 2430.3L1523 2430.8L1527 2431.3L1531 2431.7L1535 2432L1539 2432.4L1543 2432.6L1547 2432.9L1551 2433.1L1555 2433.3L1559 2433.4L1563 2433.6" fill="none" stroke="#ff0000" stroke-width="3.6" stroke-linejoin="round"/>
<path d="M327 2434.1L331 2434.1L335 2434L339 2434L343 2433.9L347 2433.8L351 2433.7L355 2433.6L359 2433.5L363 2433.4L367 2433.3L371 2433.1L375 2432.9L379 2432.8L383 2432.6L387 2432.3L391 2432.1L395 2431.8L399 2431.6L403 2431.2L407 2430.9L411 2430.5L415 2430.1L419 2429.7L423 2429.3L427 2428.8L431 2428.3L435 2427.7L439 2427.1L443 2426.5L447 2425.8L451 2425.1L455 2424.3L459 2423.5L463 2422.7L467 2421.8L471 2420.9L475 2419.9L479 2418.9L483 2417.9L487 2416.8L491 2415.7L495 2414.5L499 2413.3L503 2412.1L507 2410.9L511 2409.6L515 2408.3L519 2407L523 2405.7L527 2404.3L531 2403L535 2401.7L539 2400.3L543 2399L547 2397.7L551 2396.4L555 2395.1L559 2393.9L563 2392.7L567 2391.5L571 2390.4L575 2389.3L579 2388.3L583 2387.3L587 2386.5L591 2385.6L595 2384.9L599 2384.2L603 2383.6L607 2383.2L611 2382.7L615 2382.4L619 2382.2L623 2382L627 2382L631 2382L635 2382.2L639 2382.4L643 2382.7L647 2383.2L651 2383.6L655 2384.2L659 2384.9L663 2385.6L667 2386.5L671 2387.3L675 2388.3L679 2389.3L683 2390.4L687 2391.5L691 2392.7L695 2393.9L699 2395.1L703 2396.4L707 2397.7L711 2399L715 2400.3L719 2401.7L723 2403L727 2404.3L731 2405.7L735 2407L739 2408.3L743 2409.6L747 2410.9L751 2412.1L755 2413.3L759 2414.5L763 2415.7L767 2416.8L771 2417.9L775 2418.9L779 2419.9L783 2420.9L787 2421.8L791 2422.7L795 2423.5L799 2424.3L803 2425.1L807 2425.8L811 2426.5L815 2427.1L819 2427.7L823 2428.3L827 2428.8L831 2429.3L835 2429.7L839 2430.1L843 2430.5L847 2430.9L851 2431.2L855 2431.6L859 2431.8L863 2432.1L867 2432.3L871 2432.6L875 2432.8L879 2432.9L883 2433.1L887 2433.3L891 2433.4L895 2433.5L899 2433.6L903 2433.7L907 2433.8L911 2433.9L915 2434L919 2434L923 2434.1L927 2434.1" fill="none" stroke="#000080" stroke-width="3.6" stroke-linejoin="round"/>
<path d="M483 2434.1L487 2434.1L491 2434L495 2434L499 2433.9L503 2433.9L507 2433.8L511 2433.7L515 2433.6L519 2433.5L523 2433.4L527 2433.3L531 2433.2L535 2433L539 2432.9L543 2432.7L547 2432.6L551 2432.4L555 2432.2L559 2431.9L563 2431.7L567 2431.4L571 2431.2L575 2430.9L579 2430.5L583 2430.2L587 2429.8L591 2429.4L595 2429L599 2428.5L603 2428L607 2427.5L611 2427L615 2426.4L619 2425.7L623 2425.1L627 2424.4L631 2423.6L635 2422.8L639 2422L643 2421.1L647 2420.2L651 2419.2L655 2418.2L659 2417.2L663 2416.1L667 2414.9L671 2413.7L675 2412.4L679 2411.1L683 2409.7L687 2408.3L691 2406.9L695 2405.4L699 2403.8L703 2402.2L707 2400.6L711 2398.9L715 2397.1L719 2395.3L723 2393.5L727 2391.7L731 2389.8L735 2387.8L739 2385.9L743 2383.9L747 2381.9L751 2379.9L755 2377.9L759 2375.8L763 2373.8L767 2371.7L771 2369.7L775 2367.6L779 2365.6L783 2363.6L787 2361.6L791 2359.6L795 2357.7L799 2355.8L803 2354L807 2352.2L811 2350.4L815 2348.7L819 2347.1L823 2345.5L827 2344L831 2342.6L835 2341.3L839 2340.1L843 2338.9L847 2337.9L851 2336.9L855 2336L859 2335.3L863 2334.6L867 2334.1L871 2333.6L875 2333.3L879 2333.1L883 2333L887 2333L891 2333.1L895 2333.4L899 2333.7L903 2334.2L907 2334.8L911 2335.4L915 2336.2L919 2337.1L923 2338.1L927 2339.1L931 2340.3L935 2341.6L939 2342.9L943 2344.3L947 2345.8L951 2347.4L955 2349L959 2350.7L963 2352.5L967 2354.3L971 2356.2L975 2358.1L979 2360L983 2362L987 2364L991 2366L995 2368L999 2370.1L1003 2372.1L1007 2374.2L1011 2376.2L1015 2378.3L1019 2380.3L1023 2382.3L1027 2384.3L1031 2386.3L1035 2388.2L1039 2390.1L1043 2392L1047 2393.9L1051 2395.7L1055 2397.5L1059 2399.2L1063 2400.9L1067 2402.5L1071 2404.1L1075 2405.7L1079 2407.2L1083 2408.6L1087 2410L1091 2411.4L1095 2412.7L1099 2413.9L1103 2415.1L1107 2416.3L1111 2417.4L1115 2418.4L1119 2419.4L1123 2420.4L1127 2421.3L1131 2422.2L1135 2423L1139 2423.8L1143 2424.5L1147 2425.2L1151 2425.9L1155 2426.5L1159 2427.1L1163 2427.6L1167 2428.1L1171 2428.6L1175 2429.1L1179 2429.5L1183 2429.9L1187 2430.3L1191 2430.6L1195 2430.9L1199 2431.2L1203 2431.5L1207 2431.8L1211 2432L1215 2432.2L1219 2432.4L1223 2432.6L1227 2432.8L1231 2432.9L1235 2433.1L1239 2433.2L1243 2433.3L1247 2433.4L1251 2433.5L1255 2433.6L1259 2433.7L1263 2433.8L1267 2433.9L1271 2433.9L1275 2434L1279 2434L1283 2434.1L1287 2434.1" fill="none" stroke="#008000" stroke-width="3.6" stroke-linejoin="round"/>
<path d="M615 2434.1L619 2434.1L623 2434L627 2434L631 2433.9L635 2433.8L639 2433.8L643 2433.7L647 2433.6L651 2433.5L655 2433.4L659 2433.3L663 2433.2L667 2433L671 2432.9L675 2432.7L679 2432.5L683 2432.3L687 2432.1L691 2431.9L695 2431.7L699 2431.4L703 2431.1L707 2430.8L711 2430.4L715 2430.1L719 2429.7L723 2429.2L727 2428.8L731 2428.3L735 2427.7L739 2427.2L743 2426.6L747 2425.9L751 2425.2L755 2424.4L759 2423.6L763 2422.8L767 2421.9L771 2420.9L775 2419.8L779 2418.7L783 2417.6L787 2416.3L791 2415L795 2413.7L799 2412.2L803 2410.7L807 2409L811 2407.3L815 2405.5L819 2403.6L823 2401.7L827 2399.6L831 2397.4L835 2395.1L839 2392.8L843 2390.3L847 2387.7L851 2385L855 2382.2L859 2379.3L863 2376.3L867 2373.2L871 2370L875 2366.7L879 2363.2L883 2359.7L887 2356.1L891 2352.3L895 2348.5L899 2344.5L903 2340.5L907 2336.4L911 2332.2L915 2327.9L919 2323.5L923 2319.1L927 2314.5L931 2310L935 2305.3L939 2300.7L943 2295.9L947 2291.2L951 2286.4L955 2281.6L959 2276.8L963 2272L967 2267.2L971 2262.4L975 2257.6L979 2252.9L983 2248.2L987 2243.6L991 2239L995 2234.5L999 2230.1L1003 2225.8L1007 2221.6L1011 2217.5L1015 2213.5L1019 2209.7L1023 2206L1027 2202.4L1031 2199L1035 2195.8L1039 2192.8L1043 2189.9L1047 2187.3L1051 2184.8L1055 2182.6L1059 2180.6L1063 2178.7L1067 2177.2L1071 2175.8L1075 2174.7L1079 2173.8L1083 2173.1L1087 2172.7L1091 2172.5L1095 2172.6L1099 2172.9L1103 2173.4L1107 2174.2L1111 2175.2L1115 2176.4L1119 2177.9L1123 2179.6L1127 2181.5L1131 2183.7L1135 2186L1139 2188.6L1143 2191.3L1147 2194.3L1151 2197.4L1155 2200.7L1159 2204.2L1163 2207.8L1167 2211.6L1171 2215.5L1175 2219.5L1179 2223.7L1183 2227.9L1187 2232.3L1191 2236.7L1195 2241.3L1199 2245.9L1203 2250.5L1207 2255.2L1211 2260L1215 2264.8L1219 2269.6L1223 2274.4L1227 2279.2L1231 2284L1235 2288.8L1239 2293.6L1243 2298.3L1247 2303L1251 2307.7L1255 2312.3L1259 2316.8L1263 2321.3L1267 2325.7L1271 2330L1275 2334.3L1279 2338.4L1283 2342.5L1287 2346.5L1291 2350.4L1295 2354.2L1299 2357.9L1303 2361.5L1307 2365L1311 2368.3L1315 2371.6L1319 2374.8L1323 2377.8L1327 2380.8L1331 2383.6L1335 2386.4L1339 2389L1343 2391.5L1347 2394L1351 2396.3L1355 2398.5L1359 2400.6L1363 2402.7L1367 2404.6L1371 2406.4L1375 2408.2L1379 2409.9L1383 2411.4L1387 2412.9L1391 2414.4L1395 2415.7L1399 2417L1403 2418.2L1407 2419.3L1411 2420.4L1415 2421.4L1419 2422.3L1423 2423.2L1427 2424L1431 2424.8L1435 2425.5L1439 2426.2L1443 2426.9L1447 2427.5L1451 2428L1455 2428.5L1459 2429L1463 2429.5L1467 2429.9L1471 2430.3L1475 2430.6L1479 2430.9L1483 2431.2L1487 2431.5L1491 2431.8L1495 2432L1499 2432.2L1503 2432.4L1507 2432.6L1511 2432.8L1515 2433L1519 2433.1L1523 2433.2L1527 2433.4L1531 2433.5L1535 2433.6L1539 2433.7L1543 2433.7L1547 2433.8L1551 2433.9L1555 2433.9L1559 2434L1563 2434L1567 2434.1L1571 2434.1" fill="none" stroke="#0000ff" stroke-width="3.6" stroke-linejoin="round"/>
<path d="M1087 2434.1L1091 2434.1L1095 2434L1099 2433.9L1103 2433.8L1107 2433.6L1111 2433.5L1115 2433.3L1119 2433.1L1123 2432.9L1127 2432.6L1131 2432.3L1135 2431.9L1139 2431.5L1143 2431L1147 2430.5L1151 2429.9L1155 2429.2L1159 2428.5L1163 2427.6L1167 2426.7L1171 2425.7L1175 2424.6L1179 2423.3L1183 2422L1187 2420.5L1191 2419L1195 2417.3L1199 2415.4L1203 2413.5L1207 2411.4L1211 2409.1L1215 2406.8L1219 2404.3L1223 2401.7L1227 2399L1231 2396.2L1235 2393.2L1239 2390.2L1243 2387.2L1247 2384L1251 2380.9L1255 2377.7L1259 2374.5L1263 2371.3L1267 2368.1L1271 2365.1L1275 2362L1279 2359.1L1283 2356.4L1287 2353.7L1291 2351.3L1295 2349L1299 2346.9L1303 2345.1L1307 2343.5L1311 2342.1L1315 2341L1319 2340.2L1323 2339.7L1327 2339.5L1331 2339.6L1335 2339.9L1339 2340.6L1343 2341.5L1347 2342.8L1351 2344.2L1355 2346L1359 2347.9L1363 2350.1L1367 2352.5L1371 2355L1375 2357.7L1379 2360.6L1383 2363.5L1387 2366.6L1391 2369.7L1395 2372.9L1399 2376.1L1403 2379.3L1407 2382.5L1411 2385.6L1415 2388.7L1419 2391.8L1423 2394.7L1427 2397.6L1431 2400.4L1435 2403L1439 2405.6L1443 2408L1447 2410.3L1451 2412.4L1455 2414.5L1459 2416.3L1463 2418.1L1467 2419.8L1471 2421.3L1475 2422.7L1479 2424L1483 2425.1L1487 2426.2L1491 2427.2L1495 2428.1L1499 2428.8L1503 2429.5L1507 2430.2L1511 2430.7L1515 2431.2L1519 2431.7L1523 2432.1L1527 2432.4L1531 2432.7L1535 2433L1539 2433.2L1543 2433.4L1547 2433.6L1551 2433.7L1555 2433.8L1559 2433.9L1563 2434L1567 2434.1" fill="none" stroke="#ff00ff" stroke-width="3.6" stroke-linejoin="round"/>
<path d="M172 2428.6L184.9 2434.3L197.8 2436.2L210.7 2429.5L223.6 2428.4L236.5 2427.9L249.4 2420.7L262.3 2416.2L275.2 2424.6L288.1 2418.4L301 2416.2L313.9 2416.1L326.8 2413.7L339.7 2419.3L352.6 2413.6L365.5 2407.2L378.4 2412.2L391.3 2418.2L404.2 2412.2L417.1 2408.7L430 2412L442.9 2415.2L455.8 2404.5L468.7 2415.4L481.6 2405.4L494.5 2405.2L507.4 2407.6L520.3 2393.4L533.2 2393.6L546.1 2396.5L559 2384.6L571.9 2385.4L584.8 2388.3L597.7 2379.5L610.6 2372.2L623.5 2368L636.4 2368L649.3 2366.8L662.2 2363.3L675.1 2365L688 2357.3L700.9 2360.1L713.8 2357.3L726.7 2353.3L739.6 2356.8L752.5 2350.7L765.4 2335.2L778.3 2334.1L791.2 2329.5L804.1 2318.4L817 2313.1L829.9 2300L842.8 2294.3L855.7 2280L868.6 2278.7L881.5 2256.5L894.4 2256.1L907.3 2251.9L920.2 2235.6L933.1 2224.5L946 2209.3L958.9 2202.5L971.8 2183.9L984.7 2159.2L997.6 2172.6L1010.5 2158L1023.4 2155L1036.3 2148.3L1049.2 2154.4L1062.1 2150.2L1075 2143.6L1087.9 2148.3L1100.8 2145.1L1113.7 2161.7L1126.6 2165.4L1139.5 2162.2L1152.4 2188.9L1165.3 2200.3L1178.2 2207.5L1191.1 2218.5L1204 2225L1216.9 2237.9L1229.8 2250.6L1242.7 2253.9L1255.6 2249.7L1268.5 2261.7L1281.4 2285.3L1294.3 2278.7L1307.2 2287.6L1320.1 2287.5L1333 2299L1345.9 2299L1358.8 2314.6L1371.7 2327.3L1384.6 2343.8L1397.5 2358.5L1410.4 2370.2L1423.3 2378.3L1436.2 2392.9L1449.1 2406.3L1462 2406.8L1474.9 2417.9L1487.8 2423.8L1500.7 2430.5L1513.6 2432L1526.5 2434.1L1539.4 2444.9L1552.3 2428.6L1565.2 2431.1L1578.1 2434.9L1591 2429.5L1603.9 2432.3L1616.8 2432.7L1629.7 2445.6L1642.6 2435.5L1655.5 2432.1L1668.4 2427.2L1681.3 2426.2L1694.2 2428.1L1707.1 2439.7" fill="none" stroke="#000000" stroke-width="3" stroke-linejoin="round"/>
<line x1="629" y1="1668.8" x2="629" y2="2412" stroke="#000080" stroke-width="7" stroke-dasharray="7 23.6"/>
<line x1="866.3" y1="1599.5" x2="866.3" y2="2369" stroke="#008000" stroke-width="7" stroke-dasharray="7 23.8"/>
<line x1="1083.5" y1="1557.5" x2="1083.5" y2="2419" stroke="#0000ff" stroke-width="7" stroke-dasharray="7 23.5"/>
<line x1="1328.7" y1="1612.5" x2="1328.7" y2="2355" stroke="#ff00ff" stroke-width="7" stroke-dasharray="7 23.6"/>
<text x="556.5" y="1647" font-size="60" fill="#000080">536.5</text>
<text x="782" y="1588.5" font-size="60" fill="#008000">534.5</text>
<text x="1025" y="1522" font-size="60" fill="#0000ff">532.9</text>
<text x="1258" y="1578" font-size="60" fill="#ff00ff">531.0</text>
<text x="183" y="1681" font-size="60" fill="#000">Pd/NSC-600</text>
<text x="187" y="2033" font-size="60" fill="#000">Pd/NSC</text>
<text x="188" y="2381" font-size="60">Pd/NSC<tspan font-size="44" dy="7">ox-2</tspan></text>
<line x1="1588" y1="2460.9" x2="1588" y2="2450.9" stroke="#000" stroke-width="4.5"/>
<line x1="1459" y1="2460.9" x2="1459" y2="2443.9" stroke="#000" stroke-width="4.5"/>
<line x1="1330" y1="2460.9" x2="1330" y2="2450.9" stroke="#000" stroke-width="4.5"/>
<line x1="1201" y1="2460.9" x2="1201" y2="2443.9" stroke="#000" stroke-width="4.5"/>
<line x1="1072" y1="2460.9" x2="1072" y2="2450.9" stroke="#000" stroke-width="4.5"/>
<line x1="943" y1="2460.9" x2="943" y2="2443.9" stroke="#000" stroke-width="4.5"/>
<line x1="814" y1="2460.9" x2="814" y2="2450.9" stroke="#000" stroke-width="4.5"/>
<line x1="685" y1="2460.9" x2="685" y2="2443.9" stroke="#000" stroke-width="4.5"/>
<line x1="556" y1="2460.9" x2="556" y2="2450.9" stroke="#000" stroke-width="4.5"/>
<line x1="427" y1="2460.9" x2="427" y2="2443.9" stroke="#000" stroke-width="4.5"/>
<line x1="298" y1="2460.9" x2="298" y2="2450.9" stroke="#000" stroke-width="4.5"/>
<rect x="172.3" y="1369" width="1548.8" height="1087.9" fill="none" stroke="#8c8c8c" stroke-width="3.5"/>
<rect x="168.3" y="1373" width="1548.8" height="1087.9" fill="none" stroke="#000" stroke-width="4.6"/>
<text x="167.5" y="2525" font-size="65" fill="#000" text-anchor="middle">540</text>
<text x="425.5" y="2525" font-size="65" fill="#000" text-anchor="middle">538</text>
<text x="683.5" y="2525" font-size="65" fill="#000" text-anchor="middle">536</text>
<text x="941.5" y="2525" font-size="65" fill="#000" text-anchor="middle">534</text>
<text x="1199.5" y="2525" font-size="65" fill="#000" text-anchor="middle">532</text>
<text x="1457.5" y="2525" font-size="65" fill="#000" text-anchor="middle">530</text>
<text x="1715.5" y="2525" font-size="65" fill="#000" text-anchor="middle">528</text>
<text x="942.2" y="2620" font-size="77.2" fill="#000" text-anchor="middle">Binding energy (eV)</text>
<text x="0" y="0" font-size="77.5" transform="translate(114,2181.7) rotate(-90)">Intensity (a.u.)</text>
<text x="246.5" y="1487.5" font-size="88" fill="#000" letter-spacing="3">(b)</text>
<line x1="172.7" y1="3019.8" x2="1717.1" y2="3019.8" stroke="#7878c4" stroke-width="3"/>
<line x1="172.7" y1="3023.3" x2="1717.1" y2="3023.3" stroke="#3a2aa8" stroke-width="4"/>
<path d="M283 3020.6L287 3020.5L291 3020.3L295 3020.2L299 3020L303 3019.8L307 3019.6L311 3019.4L315 3019.1L319 3018.9L323 3018.6L327 3018.2L331 3017.9L335 3017.4L339 3017L343 3016.5L347 3016L351 3015.4L355 3014.8L359 3014.1L363 3013.4L367 3012.6L371 3011.7L375 3010.8L379 3009.8L383 3008.8L387 3007.7L391 3006.5L395 3005.2L399 3003.8L403 3002.4L407 3000.9L411 2999.2L415 2997.5L419 2995.8L423 2993.9L427 2991.9L431 2989.9L435 2987.7L439 2985.5L443 2983.2L447 2980.8L451 2978.3L455 2975.7L459 2973.1L463 2970.4L467 2967.6L471 2964.8L475 2961.9L479 2958.9L483 2956L487 2953L491 2949.9L495 2946.9L499 2943.8L503 2940.8L507 2937.8L511 2934.8L515 2931.8L519 2928.9L523 2926L527 2923.2L531 2920.5L535 2917.9L539 2915.4L543 2912.9L547 2910.7L551 2908.5L555 2906.5L559 2904.6L563 2902.9L567 2901.4L571 2900L575 2898.8L579 2897.8L583 2897L587 2896.3L591 2895.9L595 2895.6L599 2895.6L603 2895.8L607 2896.1L611 2896.6L615 2897.4L619 2898.3L623 2899.4L627 2900.6L631 2902.1L635 2903.7L639 2905.4L643 2907.3L647 2909.3L651 2911.5L655 2913.7L659 2916.1L663 2918.5L667 2921L671 2923.6L675 2926.3L679 2928.9L683 2931.6L687 2934.4L691 2937.1L695 2939.9L699 2942.6L703 2945.3L707 2947.9L711 2950.6L715 2953.1L719 2955.6L723 2958.1L727 2960.4L731 2962.7L735 2964.9L739 2967L743 2969L747 2970.9L751 2972.7L755 2974.4L759 2975.9L763 2977.4L767 2978.8L771 2980L775 2981.1L779 2982.1L783 2983.1L787 2983.9L791 2984.6L795 2985.2L799 2985.7L803 2986.1L807 2986.5L811 2986.7L815 2986.9L819 2987L823 2987L827 2987L831 2986.9L835 2986.8L839 2986.6L843 2986.4L847 2986.1L851 2985.8L855 2985.5L859 2985.2L863 2984.8L867 2984.4L871 2984.1L875 2983.7L879 2983.4L883 2983L887 2982.7L891 2982.4L895 2982.1L899 2981.8L903 2981.6L907 2981.3L911 2981.2L915 2981L919 2980.9L923 2980.8L927 2980.8L931 2980.7L935 2980.8L939 2980.8L943 2980.9L947 2981L951 2981.2L955 2981.3L959 2981.5L963 2981.7L967 2981.9L971 2982.1L975 2982.3L979 2982.4L983 2982.5L987 2982.6L991 2982.7L995 2982.7L999 2982.6L1003 2982.4L1007 2982.1L1011 2981.6L1015 2981.1L1019 2980.4L1023 2979.5L1027 2978.4L1031 2977.1L1035 2975.6L1039 2973.8L1043 2971.8L1047 2969.5L1051 2966.9L1055 2964.1L1059 2960.9L1063 2957.3L1067 2953.5L1071 2949.3L1075 2944.8L1079 2939.9L1083 2934.7L1087 2929.2L1091 2923.4L1095 2917.3L1099 2911L1103 2904.4L1107 2897.6L1111 2890.7L1115 2883.6L1119 2876.4L1123 2869.2L1127 2862L1131 2854.9L1135 2847.9L1139 2841.1L1143 2834.5L1147 2828.2L1151 2822.2L1155 2816.6L1159 2811.5L1163 2806.8L1167 2802.7L1171 2799.1L1175 2796.2L1179 2793.9L1183 2792.3L1187 2791.3L1191 2791L1195 2791.4L1199 2792.5L1203 2794.2L1207 2796.6L1211 2799.6L1215 2803.3L1219 2807.4L1223 2812.1L1227 2817.3L1231 2822.9L1235 2828.8L1239 2835.1L1243 2841.6L1247 2848.3L1251 2855.1L1255 2862L1259 2869L1263 2875.9L1267 2882.8L1271 2889.5L1275 2896.1L1279 2902.4L1283 2908.5L1287 2914.4L1291 2919.9L1295 2925.1L1299 2930.1L1303 2934.6L1307 2938.8L1311 2942.7L1315 2946.2L1319 2949.4L1323 2952.2L1327 2954.8L1331 2957L1335 2959L1339 2960.7L1343 2962.1L1347 2963.4L1351 2964.4L1355 2965.3L1359 2966.1L1363 2966.7L1367 2967.3L1371 2967.7L1375 2968.2L1379 2968.6L1383 2969L1387 2969.4L1391 2969.8L1395 2970.3L1399 2970.8L1403 2971.4L1407 2972L1411 2972.7L1415 2973.5L1419 2974.4L1423 2975.4L1427 2976.4L1431 2977.5L1435 2978.7L1439 2980L1443 2981.3L1447 2982.7L1451 2984.1L1455 2985.6L1459 2987.1L1463 2988.7L1467 2990.2L1471 2991.8L1475 2993.3L1479 2994.9L1483 2996.4L1487 2997.9L1491 2999.4L1495 3000.9L1499 3002.3L1503 3003.6L1507 3004.9L1511 3006.2L1515 3007.4L1519 3008.5L1523 3009.6L1527 3010.7L1531 3011.6L1535 3012.5L1539 3013.4L1543 3014.2L1547 3014.9L1551 3015.6L1555 3016.2L1559 3016.7L1563 3017.3L1567 3017.7L1571 3018.2L1575 3018.6L1579 3018.9L1583 3019.2L1587 3019.5L1591 3019.8L1595 3020L1599 3020.2L1603 3020.4L1607 3020.5" fill="none" stroke="#ff0000" stroke-width="3.6" stroke-linejoin="round"/>
<path d="M255 3021.1L259 3021.1L263 3021L267 3021L271 3020.9L275 3020.8L279 3020.7L283 3020.6L287 3020.5L291 3020.3L295 3020.2L299 3020L303 3019.8L307 3019.6L311 3019.4L315 3019.1L319 3018.9L323 3018.6L327 3018.2L331 3017.9L335 3017.4L339 3017L343 3016.5L347 3016L351 3015.4L355 3014.8L359 3014.1L363 3013.4L367 3012.6L371 3011.7L375 3010.8L379 3009.8L383 3008.8L387 3007.7L391 3006.5L395 3005.2L399 3003.8L403 3002.4L407 3000.9L411 2999.2L415 2997.5L419 2995.8L423 2993.9L427 2991.9L431 2989.9L435 2987.7L439 2985.5L443 2983.2L447 2980.8L451 2978.3L455 2975.7L459 2973.1L463 2970.4L467 2967.6L471 2964.8L475 2961.9L479 2958.9L483 2956L487 2953L491 2949.9L495 2946.9L499 2943.9L503 2940.8L507 2937.8L511 2934.8L515 2931.8L519 2928.9L523 2926.1L527 2923.3L531 2920.6L535 2917.9L539 2915.4L543 2913L547 2910.7L551 2908.6L555 2906.6L559 2904.7L563 2903L567 2901.5L571 2900.2L575 2899L579 2898L583 2897.2L587 2896.6L591 2896.2L595 2896L599 2896L603 2896.2L607 2896.6L611 2897.2L615 2898L619 2899L623 2900.2L627 2901.5L631 2903L635 2904.7L639 2906.6L643 2908.6L647 2910.7L651 2913L655 2915.4L659 2917.9L663 2920.6L667 2923.3L671 2926.1L675 2928.9L679 2931.8L683 2934.8L687 2937.8L691 2940.8L695 2943.9L699 2946.9L703 2949.9L707 2953L711 2956L715 2958.9L719 2961.9L723 2964.8L727 2967.6L731 2970.4L735 2973.1L739 2975.7L743 2978.3L747 2980.8L751 2983.2L755 2985.5L759 2987.7L763 2989.9L767 2991.9L771 2993.9L775 2995.8L779 2997.5L783 2999.2L787 3000.9L791 3002.4L795 3003.8L799 3005.2L803 3006.5L807 3007.7L811 3008.8L815 3009.8L819 3010.8L823 3011.7L827 3012.6L831 3013.4L835 3014.1L839 3014.8L843 3015.4L847 3016L851 3016.5L855 3017L859 3017.4L863 3017.9L867 3018.2L871 3018.6L875 3018.9L879 3019.1L883 3019.4L887 3019.6L891 3019.8L895 3020L899 3020.2L903 3020.3L907 3020.5L911 3020.6L915 3020.7L919 3020.8L923 3020.9L927 3021L931 3021L935 3021.1L939 3021.1" fill="none" stroke="#ff00ff" stroke-width="3.6" stroke-linejoin="round"/>
<path d="M595 3021.1L599 3021.1L603 3021L607 3021L611 3020.9L615 3020.9L619 3020.8L623 3020.7L627 3020.6L631 3020.5L635 3020.4L639 3020.3L643 3020.2L647 3020.1L651 3019.9L655 3019.8L659 3019.6L663 3019.4L667 3019.3L671 3019.1L675 3018.8L679 3018.6L683 3018.4L687 3018.1L691 3017.8L695 3017.5L699 3017.2L703 3016.8L707 3016.5L711 3016.1L715 3015.7L719 3015.3L723 3014.8L727 3014.3L731 3013.8L735 3013.3L739 3012.8L743 3012.2L747 3011.6L751 3011L755 3010.4L759 3009.7L763 3009L767 3008.3L771 3007.6L775 3006.9L779 3006.1L783 3005.3L787 3004.5L791 3003.7L795 3002.9L799 3002L803 3001.2L807 3000.3L811 2999.4L815 2998.6L819 2997.7L823 2996.8L827 2995.9L831 2995L835 2994.2L839 2993.3L843 2992.5L847 2991.6L851 2990.8L855 2990L859 2989.2L863 2988.5L867 2987.7L871 2987L875 2986.4L879 2985.7L883 2985.1L887 2984.6L891 2984.1L895 2983.6L899 2983.2L903 2982.8L907 2982.4L911 2982.2L915 2981.9L919 2981.7L923 2981.6L927 2981.5L931 2981.5L935 2981.5L939 2981.6L943 2981.7L947 2981.9L951 2982.2L955 2982.4L959 2982.8L963 2983.2L967 2983.6L971 2984.1L975 2984.6L979 2985.1L983 2985.7L987 2986.4L991 2987L995 2987.7L999 2988.5L1003 2989.2L1007 2990L1011 2990.8L1015 2991.6L1019 2992.5L1023 2993.3L1027 2994.2L1031 2995L1035 2995.9L1039 2996.8L1043 2997.7L1047 2998.6L1051 2999.4L1055 3000.3L1059 3001.2L1063 3002L1067 3002.9L1071 3003.7L1075 3004.5L1079 3005.3L1083 3006.1L1087 3006.9L1091 3007.6L1095 3008.3L1099 3009L1103 3009.7L1107 3010.4L1111 3011L1115 3011.6L1119 3012.2L1123 3012.8L1127 3013.3L1131 3013.8L1135 3014.3L1139 3014.8L1143 3015.3L1147 3015.7L1151 3016.1L1155 3016.5L1159 3016.8L1163 3017.2L1167 3017.5L1171 3017.8L1175 3018.1L1179 3018.4L1183 3018.6L1187 3018.8L1191 3019.1L1195 3019.3L1199 3019.4L1203 3019.6L1207 3019.8L1211 3019.9L1215 3020.1L1219 3020.2L1223 3020.3L1227 3020.4L1231 3020.5L1235 3020.6L1239 3020.7L1243 3020.8L1247 3020.9L1251 3020.9L1255 3021L1259 3021L1263 3021.1L1267 3021.1" fill="none" stroke="#000080" stroke-width="3.6" stroke-linejoin="round"/>
<path d="M935 3021.2L939 3021.1L943 3021L947 3020.9L951 3020.8L955 3020.6L959 3020.4L963 3020.2L967 3019.9L971 3019.6L975 3019.3L979 3018.9L983 3018.4L987 3017.8L991 3017.2L995 3016.5L999 3015.6L1003 3014.7L1007 3013.6L1011 3012.4L1015 3011L1019 3009.4L1023 3007.7L1027 3005.7L1031 3003.6L1035 3001.2L1039 2998.5L1043 2995.6L1047 2992.5L1051 2989L1055 2985.3L1059 2981.2L1063 2976.8L1067 2972.1L1071 2967.1L1075 2961.7L1079 2956.1L1083 2950.1L1087 2943.9L1091 2937.3L1095 2930.5L1099 2923.5L1103 2916.2L1107 2908.8L1111 2901.2L1115 2893.5L1119 2885.8L1123 2878L1127 2870.3L1131 2862.7L1135 2855.2L1139 2847.9L1143 2840.9L1147 2834.2L1151 2827.8L1155 2821.9L1159 2816.4L1163 2811.5L1167 2807.1L1171 2803.3L1175 2800.2L1179 2797.7L1183 2795.9L1187 2794.9L1191 2794.5L1195 2794.9L1199 2795.9L1203 2797.7L1207 2800.2L1211 2803.3L1215 2807.1L1219 2811.5L1223 2816.4L1227 2821.9L1231 2827.8L1235 2834.2L1239 2840.9L1243 2847.9L1247 2855.2L1251 2862.7L1255 2870.3L1259 2878L1263 2885.8L1267 2893.5L1271 2901.2L1275 2908.8L1279 2916.2L1283 2923.5L1287 2930.5L1291 2937.3L1295 2943.9L1299 2950.1L1303 2956.1L1307 2961.7L1311 2967.1L1315 2972.1L1319 2976.8L1323 2981.2L1327 2985.3L1331 2989L1335 2992.5L1339 2995.6L1343 2998.5L1347 3001.2L1351 3003.6L1355 3005.7L1359 3007.7L1363 3009.4L1367 3011L1371 3012.4L1375 3013.6L1379 3014.7L1383 3015.6L1387 3016.5L1391 3017.2L1395 3017.8L1399 3018.4L1403 3018.9L1407 3019.3L1411 3019.6L1415 3019.9L1419 3020.2L1423 3020.4L1427 3020.6L1431 3020.8L1435 3020.9L1439 3021L1443 3021.1L1447 3021.2" fill="none" stroke="#0000ff" stroke-width="3.6" stroke-linejoin="round"/>
<path d="M1163 3021.1L1167 3021.1L1171 3021L1175 3020.9L1179 3020.8L1183 3020.7L1187 3020.6L1191 3020.4L1195 3020.3L1199 3020.1L1203 3019.9L1207 3019.6L1211 3019.4L1215 3019.1L1219 3018.7L1223 3018.4L1227 3018L1231 3017.5L1235 3017L1239 3016.5L1243 3015.9L1247 3015.2L1251 3014.5L1255 3013.8L1259 3013L1263 3012.1L1267 3011.1L1271 3010.2L1275 3009.1L1279 3008L1283 3006.8L1287 3005.6L1291 3004.3L1295 3003L1299 3001.6L1303 3000.2L1307 2998.7L1311 2997.2L1315 2995.7L1319 2994.2L1323 2992.6L1327 2991.1L1331 2989.6L1335 2988.1L1339 2986.6L1343 2985.1L1347 2983.7L1351 2982.4L1355 2981.1L1359 2979.9L1363 2978.8L1367 2977.8L1371 2976.9L1375 2976.1L1379 2975.4L1383 2974.8L1387 2974.4L1391 2974.1L1395 2973.9L1399 2973.9L1403 2974L1407 2974.2L1411 2974.6L1415 2975.1L1419 2975.7L1423 2976.5L1427 2977.3L1431 2978.3L1435 2979.4L1439 2980.5L1443 2981.7L1447 2983L1451 2984.4L1455 2985.8L1459 2987.3L1463 2988.8L1467 2990.3L1471 2991.9L1475 2993.4L1479 2994.9L1483 2996.5L1487 2998L1491 2999.4L1495 3000.9L1499 3002.3L1503 3003.6L1507 3004.9L1511 3006.2L1515 3007.4L1519 3008.5L1523 3009.6L1527 3010.7L1531 3011.6L1535 3012.5L1539 3013.4L1543 3014.2L1547 3014.9L1551 3015.6L1555 3016.2L1559 3016.7L1563 3017.3L1567 3017.7L1571 3018.2L1575 3018.6L1579 3018.9L1583 3019.2L1587 3019.5L1591 3019.8L1595 3020L1599 3020.2L1603 3020.4L1607 3020.5L1611 3020.7L1615 3020.8L1619 3020.9L1623 3021L1627 3021.1L1631 3021.1" fill="none" stroke="#008000" stroke-width="3.6" stroke-linejoin="round"/>
<path d="M176 3033.6L187 3018.3L198 3021.3L209 3016.1L220 3022.1L231 3020.1L242 3029.5L253 3018.7L264 3023.5L275 3018.9L286 3017.9L297 3016.3L308 3000.1L319 3016.5L330 3013.8L341 3014L352 3018.3L363 3016.6L374 3001.5L385 3008.8L396 2999.4L407 2998.7L418 2999.3L429 2995L440 2984.2L451 2976.9L462 2967.7L473 2970.3L484 2958.5L495 2947.4L506 2929.7L517 2943.3L528 2920.1L539 2916.4L550 2895.1L561 2895.9L572 2896.2L583 2888.3L594 2893.8L605 2893.5L616 2895.6L627 2906.2L638 2911.7L649 2931.4L660 2933.3L671 2926L682 2932.3L693 2934.3L704 2946.2L715 2956L726 2951.8L737 2960.5L748 2964.4L759 2972.6L770 2980.3L781 2985L792 2986.5L803 2981.3L814 2986.9L825 2996.3L836 2988.7L847 2996.4L858 2987.9L869 2995.6L880 2996.3L891 2989.1L902 2990.6L913 2999.7L924 2986.6L935 2978.8L946 2998.6L957 2980.1L968 2993.2L979 2991.3L990 2988.5L1001 2994.1L1012 2977L1023 2978.5L1034 2981.3L1045 2972.9L1056 2972L1067 2955.6L1078 2936.1L1089 2935.8L1100 2911.8L1111 2889.9L1122 2865.5L1133 2846.8L1144 2845.4L1155 2831.3L1166 2804.4L1177 2793.5L1188 2776.1L1199 2775.6L1210 2788.5L1221 2808.3L1232 2825.4L1243 2838.4L1254 2870.7L1265 2879.4L1276 2903.5L1287 2901.2L1298 2924.9L1309 2940L1320 2951.2L1331 2970.9L1342 2957.9L1353 2956.1L1364 2971.4L1375 2966L1386 2969.1L1397 2986.6L1408 2979.3L1419 2983.3L1430 2994L1441 2997.3L1452 2992.4L1463 3004.7L1474 2996.2L1485 2993L1496 3008.6L1507 2999.6L1518 3010.6L1529 3022.6L1540 3014.1L1551 3020.9L1562 3015.4L1573 3024.8L1584 3013.5L1595 3024.1L1606 3018.5L1617 3024.1L1628 3022.8L1639 3014.7L1650 3020.1L1661 3023.6L1672 3028.3L1683 3015.1L1694 3017.4L1705 3023.3L1716 3020.2" fill="none" stroke="#000000" stroke-width="3" stroke-linejoin="round"/>
<line x1="172.7" y1="3382.8" x2="1717.1" y2="3382.8" stroke="#909090" stroke-width="3"/>
<line x1="172.7" y1="3386.3" x2="1717.1" y2="3386.3" stroke="#0a0a50" stroke-width="4"/>
<line x1="172.7" y1="3389.3" x2="1717.1" y2="3389.3" stroke="#7070b0" stroke-width="2.5"/>
<path d="M176 3385.8L187 3385L198 3383.2L209 3376.1L220 3375.7L231 3380.8L242 3372.1L253 3371.3L264 3374.1L275 3368.9L286 3375.7L297 3374.2L308 3370.5L319 3372.7L330 3367.4L341 3377.7L352 3361.8L363 3372.4L374 3367.2L385 3371.6L396 3358L407 3351.1L418 3348.5L429 3345.6L440 3353.9L451 3344.4L462 3337L473 3333.5L484 3315.9L495 3314.5L506 3309.2L517 3299.9L528 3301.7L539 3295.7L550 3290.4L561 3278.4L572 3275.6L583 3271.5L594 3266.4L605 3269.8L616 3254.1L627 3266.5L638 3284.5L649 3284.9L660 3282.9L671 3290.8L682 3300.3L693 3314.6L704 3322.4L715 3319L726 3329.2L737 3327.2L748 3324.4L759 3337L770 3341.8L781 3341.8L792 3341.3L803 3344L814 3347.3L825 3346.1L836 3358.3L847 3354.3L858 3348.3L869 3353.8L880 3355.4L891 3354.1L902 3352.1L913 3347.8L924 3352.4L935 3345.8L946 3338.3L957 3349.2L968 3342.3L979 3348.5L990 3356.8L1001 3352.1L1012 3355L1023 3342.8L1034 3348.5L1045 3327.7L1056 3322.8L1067 3327.2L1078 3301.4L1089 3286.3L1100 3287.2L1111 3263.6L1122 3263.3L1133 3235.3L1144 3228.8L1155 3200.8L1166 3199.3L1177 3194L1188 3172.9L1199 3163.9L1210 3186.6L1221 3189.4L1232 3206.6L1243 3223.9L1254 3234.6L1265 3245.2L1276 3277L1287 3282L1298 3296.5L1309 3317.5L1320 3310.1L1331 3315.4L1342 3336.6L1353 3325.4L1364 3337.1L1375 3339.9L1386 3331.8L1397 3339.9L1408 3340.5L1419 3335.5L1430 3338.7L1441 3343.3L1452 3358.7L1463 3362.8L1474 3351.2L1485 3365.8L1496 3363.1L1507 3372.8L1518 3370.6L1529 3378.9L1540 3364.9L1551 3381.2L1562 3377.5L1573 3379L1584 3372.1L1595 3387.2L1606 3380.1L1617 3381.5L1628 3377.8L1639 3378.5L1650 3383.9L1661 3380.4L1672 3384.1L1683 3379.8L1694 3383.3L1705 3386.7L1716 3383.6" fill="none" stroke="#ff0000" stroke-width="3" stroke-linejoin="round"/>
<path d="M259 3385.1L263 3385L267 3384.8L271 3384.7L275 3384.6L279 3384.4L283 3384.2L287 3384L291 3383.8L295 3383.6L299 3383.3L303 3383.1L307 3382.8L311 3382.5L315 3382.1L319 3381.7L323 3381.3L327 3380.9L331 3380.4L335 3379.9L339 3379.4L343 3378.8L347 3378.2L351 3377.5L355 3376.8L359 3376L363 3375.2L367 3374.4L371 3373.4L375 3372.5L379 3371.4L383 3370.4L387 3369.2L391 3368L395 3366.8L399 3365.4L403 3364L407 3362.6L411 3361.1L415 3359.5L419 3357.8L423 3356.1L427 3354.4L431 3352.5L435 3350.6L439 3348.7L443 3346.6L447 3344.6L451 3342.4L455 3340.3L459 3338L463 3335.8L467 3333.5L471 3331.1L475 3328.7L479 3326.3L483 3323.9L487 3321.5L491 3319L495 3316.5L499 3314.1L503 3311.6L507 3309.2L511 3306.8L515 3304.4L519 3302.1L523 3299.7L527 3297.5L531 3295.3L535 3293.2L539 3291.1L543 3289.1L547 3287.2L551 3285.4L555 3283.7L559 3282L563 3280.5L567 3279.2L571 3277.9L575 3276.7L579 3275.7L583 3274.8L587 3274.1L591 3273.4L595 3273L599 3272.6L603 3272.4L607 3272.4L611 3272.5L615 3272.7L619 3273.1L623 3273.6L627 3274.2L631 3275L635 3275.9L639 3277L643 3278.1L647 3279.4L651 3280.8L655 3282.3L659 3283.9L663 3285.6L667 3287.3L671 3289.2L675 3291.1L679 3293.1L683 3295.1L687 3297.2L691 3299.3L695 3301.5L699 3303.7L703 3305.9L707 3308.1L711 3310.3L715 3312.5L719 3314.6L723 3316.8L727 3318.9L731 3321L735 3323L739 3325L743 3327L747 3328.8L751 3330.6L755 3332.4L759 3334L763 3335.6L767 3337.1L771 3338.5L775 3339.9L779 3341.1L783 3342.3L787 3343.3L791 3344.3L795 3345.2L799 3346L803 3346.7L807 3347.3L811 3347.9L815 3348.3L819 3348.7L823 3349L827 3349.2L831 3349.4L835 3349.5L839 3349.6L843 3349.6L847 3349.5L851 3349.4L855 3349.3L859 3349.2L863 3349L867 3348.8L871 3348.6L875 3348.3L879 3348.1L883 3347.9L887 3347.7L891 3347.5L895 3347.3L899 3347.1L903 3347L907 3346.9L911 3346.8L915 3346.8L919 3346.8L923 3346.8L927 3346.8L931 3346.9L935 3347.1L939 3347.2L943 3347.5L947 3347.7L951 3348L955 3348.2L959 3348.5L963 3348.9L967 3349.2L971 3349.5L975 3349.8L979 3350.1L983 3350.4L987 3350.6L991 3350.8L995 3350.9L999 3350.9L1003 3350.8L1007 3350.7L1011 3350.4L1015 3350L1019 3349.4L1023 3348.7L1027 3347.8L1031 3346.7L1035 3345.4L1039 3343.8L1043 3342.1L1047 3340.1L1051 3337.8L1055 3335.2L1059 3332.4L1063 3329.3L1067 3326L1071 3322.3L1075 3318.3L1079 3314.1L1083 3309.6L1087 3304.8L1091 3299.8L1095 3294.6L1099 3289.1L1103 3283.5L1107 3277.7L1111 3271.7L1115 3265.7L1119 3259.5L1123 3253.4L1127 3247.3L1131 3241.2L1135 3235.2L1139 3229.4L1143 3223.7L1147 3218.3L1151 3213.2L1155 3208.3L1159 3203.8L1163 3199.7L1167 3196.1L1171 3192.9L1175 3190.1L1179 3187.9L1183 3186.3L1187 3185.1L1191 3184.5L1195 3184.5L1199 3185.1L1203 3186.2L1207 3187.8L1211 3190L1215 3192.6L1219 3195.8L1223 3199.4L1227 3203.4L1231 3207.7L1235 3212.5L1239 3217.5L1243 3222.8L1247 3228.3L1251 3233.9L1255 3239.7L1259 3245.5L1263 3251.4L1267 3257.3L1271 3263.1L1275 3268.8L1279 3274.4L1283 3279.8L1287 3285.1L1291 3290.2L1295 3295L1299 3299.6L1303 3303.9L1307 3307.9L1311 3311.7L1315 3315.1L1319 3318.3L1323 3321.2L1327 3323.9L1331 3326.3L1335 3328.4L1339 3330.3L1343 3331.9L1347 3333.4L1351 3334.7L1355 3335.8L1359 3336.7L1363 3337.5L1367 3338.2L1371 3338.8L1375 3339.4L1379 3339.8L1383 3340.3L1387 3340.7L1391 3341.1L1395 3341.5L1399 3342L1403 3342.4L1407 3343L1411 3343.5L1415 3344.1L1419 3344.8L1423 3345.5L1427 3346.3L1431 3347.2L1435 3348.1L1439 3349.1L1443 3350.2L1447 3351.3L1451 3352.4L1455 3353.6L1459 3354.8L1463 3356.1L1467 3357.4L1471 3358.7L1475 3360L1479 3361.3L1483 3362.6L1487 3363.9L1491 3365.2L1495 3366.5L1499 3367.7L1503 3368.9L1507 3370.1L1511 3371.2L1515 3372.3L1519 3373.4L1523 3374.4L1527 3375.3L1531 3376.2L1535 3377.1L1539 3377.9L1543 3378.6L1547 3379.3L1551 3380L1555 3380.6L1559 3381.1L1563 3381.7L1567 3382.1L1571 3382.5L1575 3382.9L1579 3383.3L1583 3383.6L1587 3383.9L1591 3384.2L1595 3384.4L1599 3384.6L1603 3384.8L1607 3384.9L1611 3385.1" fill="none" stroke="#0000ff" stroke-width="3.8" stroke-linejoin="round"/>
<path d="M175 3384.4L179 3384.4L183 3384.4L187 3384.4L191 3384.4L195 3384.4L199 3384.3L203 3384.3L207 3384.3L211 3384.3L215 3384.2L219 3384.2L223 3384.2L227 3384.1L231 3384.1L235 3384L239 3384L243 3383.9L247 3383.8L251 3383.8L255 3383.7L259 3383.6L263 3383.5L267 3383.3L271 3383.2L275 3383.1L279 3382.9L283 3382.7L287 3382.5L291 3382.3L295 3382.1L299 3381.8L303 3381.6L307 3381.3L311 3381L315 3380.6L319 3380.2L323 3379.8L327 3379.4L331 3378.9L335 3378.4L339 3377.9L343 3377.3L347 3376.7L351 3376L355 3375.3L359 3374.5L363 3373.7L367 3372.9L371 3371.9L375 3371L379 3369.9L383 3368.9L387 3367.7L391 3366.5L395 3365.3L399 3363.9L403 3362.5L407 3361.1L411 3359.6L415 3358L419 3356.3L423 3354.6L427 3352.9L431 3351L435 3349.1L439 3347.2L443 3345.1L447 3343.1L451 3340.9L455 3338.8L459 3336.5L463 3334.3L467 3332L471 3329.6L475 3327.2L479 3324.8L483 3322.4L487 3320L491 3317.5L495 3315L499 3312.6L503 3310.1L507 3307.7L511 3305.3L515 3302.9L519 3300.6L523 3298.3L527 3296L531 3293.8L535 3291.7L539 3289.6L543 3287.6L547 3285.7L551 3283.9L555 3282.2L559 3280.6L563 3279.1L567 3277.7L571 3276.4L575 3275.3L579 3274.3L583 3273.4L587 3272.6L591 3272L595 3271.5L599 3271.2L603 3271L607 3271L611 3271.1L615 3271.4L619 3271.8L623 3272.3L627 3273L631 3273.8L635 3274.7L639 3275.8L643 3277L647 3278.4L651 3279.8L655 3281.4L659 3283L663 3284.8L667 3286.6L671 3288.6L675 3290.6L679 3292.7L683 3294.9L687 3297.1L691 3299.4L695 3301.7L699 3304.1L703 3306.5L707 3308.9L711 3311.4L715 3313.8L719 3316.3L723 3318.7L727 3321.2L731 3323.6L735 3326L739 3328.4L743 3330.8L747 3333.1L751 3335.4L755 3337.7L759 3339.9L763 3342L767 3344.1L771 3346.2L775 3348.1L779 3350.1L783 3351.9L787 3353.7L791 3355.5L795 3357.2L799 3358.8L803 3360.3L807 3361.8L811 3363.2L815 3364.6L819 3365.9L823 3367.1L827 3368.3L831 3369.4L835 3370.5L839 3371.5L843 3372.4L847 3373.3L851 3374.1L855 3374.9L859 3375.6L863 3376.3L867 3377L871 3377.6L875 3378.2L879 3378.7L883 3379.2L887 3379.6L891 3380L895 3380.4L899 3380.8L903 3381.1L907 3381.4L911 3381.7L915 3382L919 3382.2L923 3382.4L927 3382.6L931 3382.8L935 3383L939 3383.1L943 3383.3L947 3383.4L951 3383.5L955 3383.6L959 3383.7L963 3383.8L967 3383.9L971 3383.9L975 3384L979 3384.1L983 3384.1L987 3384.2L991 3384.2L995 3384.2L999 3384.3L1003 3384.3L1007 3384.3L1011 3384.3L1015 3384.4L1019 3384.4L1023 3384.4L1027 3384.4L1031 3384.4L1035 3384.4L1039 3384.4L1043 3384.4L1047 3384.5L1051 3384.5L1055 3384.5L1059 3384.5L1063 3384.5L1067 3384.5L1071 3384.5L1075 3384.5L1079 3384.5L1083 3384.5L1087 3384.5L1091 3384.5L1095 3384.5L1099 3384.5L1103 3384.5L1107 3384.5L1111 3384.5L1115 3384.5L1119 3384.5L1123 3384.5L1127 3384.5L1131 3384.5L1135 3384.5L1139 3384.5L1143 3384.5L1147 3384.5L1151 3384.5L1155 3384.5L1159 3384.5L1163 3384.5L1167 3384.5L1171 3384.5L1175 3384.5L1179 3384.5L1183 3384.5L1187 3384.5L1191 3384.5L1195 3384.5L1199 3384.5L1203 3384.5L1207 3384.5L1211 3384.5L1215 3384.5L1219 3384.5L1223 3384.5L1227 3384.5L1231 3384.5L1235 3384.5L1239 3384.5L1243 3384.5L1247 3384.5L1251 3384.5L1255 3384.5L1259 3384.5L1263 3384.5L1267 3384.5L1271 3384.5L1275 3384.5L1279 3384.5L1283 3384.5L1287 3384.5L1291 3384.5L1295 3384.5L1299 3384.5L1303 3384.5L1307 3384.5L1311 3384.5L1315 3384.5L1319 3384.5L1323 3384.5L1327 3384.5L1331 3384.5L1335 3384.5L1339 3384.5L1343 3384.5L1347 3384.5L1351 3384.5L1355 3384.5L1359 3384.5L1363 3384.5L1367 3384.5L1371 3384.5L1375 3384.5L1379 3384.5L1383 3384.5L1387 3384.5L1391 3384.5L1395 3384.5L1399 3384.5L1403 3384.5L1407 3384.5L1411 3384.5L1415 3384.5L1419 3384.5L1423 3384.5L1427 3384.5L1431 3384.5L1435 3384.5L1439 3384.5L1443 3384.5L1447 3384.5L1451 3384.5L1455 3384.5L1459 3384.5L1463 3384.5L1467 3384.5L1471 3384.5L1475 3384.5L1479 3384.5L1483 3384.5L1487 3384.5L1491 3384.5L1495 3384.5L1499 3384.5L1503 3384.5L1507 3384.5L1511 3384.5L1515 3384.5L1519 3384.5L1523 3384.5L1527 3384.5L1531 3384.5L1535 3384.5L1539 3384.5L1543 3384.5L1547 3384.5L1551 3384.5L1555 3384.5L1559 3384.5L1563 3384.5L1567 3384.5L1571 3384.5L1575 3384.5L1579 3384.5L1583 3384.5L1587 3384.5L1591 3384.5L1595 3384.5L1599 3384.5L1603 3384.5L1607 3384.5L1611 3384.5L1615 3384.5L1619 3384.5L1623 3384.5L1627 3384.5L1631 3384.5L1635 3384.5L1639 3384.5L1643 3384.5L1647 3384.5L1651 3384.5L1655 3384.5L1659 3384.5L1663 3384.5L1667 3384.5L1671 3384.5L1675 3384.5L1679 3384.5L1683 3384.5L1687 3384.5L1691 3384.5L1695 3384.5L1699 3384.5L1703 3384.5L1707 3384.5L1711 3384.5L1715 3384.5" fill="none" stroke="#000000" stroke-width="3.6" stroke-linejoin="round"/>
<path d="M643 3385.6L647 3385.6L651 3385.5L655 3385.4L659 3385.4L663 3385.3L667 3385.2L671 3385.1L675 3385L679 3384.9L683 3384.7L687 3384.6L691 3384.4L695 3384.3L699 3384.1L703 3383.9L707 3383.6L711 3383.4L715 3383.1L719 3382.9L723 3382.6L727 3382.2L731 3381.9L735 3381.5L739 3381.1L743 3380.7L747 3380.2L751 3379.7L755 3379.2L759 3378.7L763 3378.1L767 3377.5L771 3376.9L775 3376.2L779 3375.5L783 3374.8L787 3374.1L791 3373.3L795 3372.5L799 3371.7L803 3370.9L807 3370L811 3369.1L815 3368.2L819 3367.3L823 3366.4L827 3365.4L831 3364.5L835 3363.6L839 3362.6L843 3361.7L847 3360.7L851 3359.8L855 3358.9L859 3358L863 3357.1L867 3356.3L871 3355.5L875 3354.7L879 3354L883 3353.3L887 3352.6L891 3352L895 3351.4L899 3350.9L903 3350.5L907 3350.1L911 3349.7L915 3349.5L919 3349.2L923 3349.1L927 3349L931 3349L935 3349.1L939 3349.2L943 3349.3L947 3349.6L951 3349.9L955 3350.3L959 3350.7L963 3351.2L967 3351.7L971 3352.3L975 3352.9L979 3353.6L983 3354.3L987 3355.1L991 3355.9L995 3356.7L999 3357.6L1003 3358.5L1007 3359.4L1011 3360.3L1015 3361.2L1019 3362.1L1023 3363.1L1027 3364L1031 3365L1035 3365.9L1039 3366.8L1043 3367.8L1047 3368.7L1051 3369.6L1055 3370.4L1059 3371.3L1063 3372.1L1067 3372.9L1071 3373.7L1075 3374.5L1079 3375.2L1083 3375.9L1087 3376.6L1091 3377.2L1095 3377.8L1099 3378.4L1103 3379L1107 3379.5L1111 3380L1115 3380.4L1119 3380.9L1123 3381.3L1127 3381.7L1131 3382.1L1135 3382.4L1139 3382.7L1143 3383L1147 3383.3L1151 3383.5L1155 3383.8L1159 3384L1163 3384.2L1167 3384.4L1171 3384.5L1175 3384.7L1179 3384.8L1183 3384.9L1187 3385L1191 3385.2L1195 3385.2L1199 3385.3L1203 3385.4L1207 3385.5L1211 3385.5L1215 3385.6L1219 3385.6" fill="none" stroke="#000080" stroke-width="3.6" stroke-linejoin="round"/>
<path d="M931 3385.6L935 3385.5L939 3385.4L943 3385.3L947 3385.2L951 3385L955 3384.9L959 3384.7L963 3384.4L967 3384.1L971 3383.8L975 3383.4L979 3382.9L983 3382.4L987 3381.8L991 3381.2L995 3380.4L999 3379.6L1003 3378.6L1007 3377.5L1011 3376.3L1015 3374.9L1019 3373.4L1023 3371.7L1027 3369.8L1031 3367.8L1035 3365.5L1039 3363.1L1043 3360.4L1047 3357.4L1051 3354.3L1055 3350.9L1059 3347.2L1063 3343.3L1067 3339.1L1071 3334.6L1075 3329.9L1079 3325L1083 3319.7L1087 3314.3L1091 3308.6L1095 3302.8L1099 3296.7L1103 3290.5L1107 3284.2L1111 3277.8L1115 3271.2L1119 3264.7L1123 3258.1L1127 3251.6L1131 3245.2L1135 3238.9L1139 3232.8L1143 3226.8L1147 3221.1L1151 3215.8L1155 3210.7L1159 3206L1163 3201.8L1167 3198L1171 3194.6L1175 3191.8L1179 3189.5L1183 3187.8L1187 3186.7L1191 3186.1L1195 3186.1L1199 3186.7L1203 3187.8L1207 3189.5L1211 3191.8L1215 3194.6L1219 3198L1223 3201.8L1227 3206L1231 3210.7L1235 3215.8L1239 3221.1L1243 3226.8L1247 3232.8L1251 3238.9L1255 3245.2L1259 3251.6L1263 3258.1L1267 3264.7L1271 3271.2L1275 3277.8L1279 3284.2L1283 3290.5L1287 3296.7L1291 3302.8L1295 3308.6L1299 3314.3L1303 3319.7L1307 3325L1311 3329.9L1315 3334.6L1319 3339.1L1323 3343.3L1327 3347.2L1331 3350.9L1335 3354.3L1339 3357.4L1343 3360.4L1347 3363.1L1351 3365.5L1355 3367.8L1359 3369.8L1363 3371.7L1367 3373.4L1371 3374.9L1375 3376.3L1379 3377.5L1383 3378.6L1387 3379.6L1391 3380.4L1395 3381.2L1399 3381.8L1403 3382.4L1407 3382.9L1411 3383.4L1415 3383.8L1419 3384.1L1423 3384.4L1427 3384.7L1431 3384.9L1435 3385L1439 3385.2L1443 3385.3L1447 3385.4L1451 3385.5L1455 3385.6" fill="none" stroke="#ff00ff" stroke-width="3.6" stroke-linejoin="round"/>
<path d="M1175 3385.6L1179 3385.6L1183 3385.5L1187 3385.4L1191 3385.3L1195 3385.2L1199 3385.1L1203 3384.9L1207 3384.8L1211 3384.6L1215 3384.4L1219 3384.2L1223 3383.9L1227 3383.6L1231 3383.3L1235 3382.9L1239 3382.5L1243 3382.1L1247 3381.7L1251 3381.1L1255 3380.6L1259 3380L1263 3379.3L1267 3378.6L1271 3377.9L1275 3377.1L1279 3376.2L1283 3375.3L1287 3374.4L1291 3373.4L1295 3372.4L1299 3371.3L1303 3370.1L1307 3369L1311 3367.8L1315 3366.5L1319 3365.3L1323 3364L1327 3362.7L1331 3361.4L1335 3360.1L1339 3358.8L1343 3357.6L1347 3356.3L1351 3355.1L1355 3354L1359 3352.9L1363 3351.8L1367 3350.8L1371 3349.9L1375 3349.1L1379 3348.3L1383 3347.7L1387 3347.1L1391 3346.7L1395 3346.4L1399 3346.1L1403 3346L1407 3346L1411 3346.1L1415 3346.4L1419 3346.7L1423 3347.1L1427 3347.7L1431 3348.3L1435 3349.1L1439 3349.9L1443 3350.8L1447 3351.8L1451 3352.9L1455 3354L1459 3355.1L1463 3356.3L1467 3357.6L1471 3358.8L1475 3360.1L1479 3361.4L1483 3362.7L1487 3364L1491 3365.3L1495 3366.5L1499 3367.8L1503 3369L1507 3370.1L1511 3371.3L1515 3372.4L1519 3373.4L1523 3374.4L1527 3375.3L1531 3376.2L1535 3377.1L1539 3377.9L1543 3378.6L1547 3379.3L1551 3380L1555 3380.6L1559 3381.1L1563 3381.7L1567 3382.1L1571 3382.5L1575 3382.9L1579 3383.3L1583 3383.6L1587 3383.9L1591 3384.2L1595 3384.4L1599 3384.6L1603 3384.8L1607 3384.9L1611 3385.1L1615 3385.2L1619 3385.3L1623 3385.4L1627 3385.5L1631 3385.6L1635 3385.6" fill="none" stroke="#008000" stroke-width="3.6" stroke-linejoin="round"/>
<line x1="172.7" y1="3742.8" x2="1717.1" y2="3742.8" stroke="#c8d0c8" stroke-width="3"/>
<line x1="172.7" y1="3746.3" x2="1717.1" y2="3746.3" stroke="#0a200a" stroke-width="4"/>
<line x1="172.7" y1="3749.3" x2="1717.1" y2="3749.3" stroke="#706a80" stroke-width="2.5"/>
<path d="M176 3738.3L187 3725.5L198 3740.4L209 3733.8L220 3724.7L231 3743.6L242 3739.1L253 3733.3L264 3724.5L275 3707L286 3717.4L297 3711L308 3718.5L319 3731.3L330 3730L341 3709.8L352 3714.7L363 3723.4L374 3708.2L385 3722.9L396 3704.9L407 3700L418 3709.3L429 3706.2L440 3688.2L451 3692.4L462 3672.1L473 3675.1L484 3653.1L495 3646.9L506 3639.4L517 3631.7L528 3614.9L539 3618.5L550 3600.7L561 3594.7L572 3583.1L583 3591.4L594 3572.3L605 3584.2L616 3582L627 3562.5L638 3581.1L649 3605L660 3618.3L671 3622.7L682 3637.2L693 3645.4L704 3644.4L715 3660.9L726 3670.7L737 3676.3L748 3684.1L759 3682.6L770 3685.2L781 3695L792 3694.7L803 3684L814 3699.6L825 3707.1L836 3697.2L847 3711.9L858 3719.6L869 3708.3L880 3715.7L891 3710.3L902 3701.8L913 3701L924 3701.6L935 3697.5L946 3695.5L957 3683L968 3692.8L979 3691L990 3675L1001 3690.6L1012 3678.4L1023 3678.8L1034 3685L1045 3687.3L1056 3667.3L1067 3653.2L1078 3634.6L1089 3619.7L1100 3590L1111 3564.3L1122 3553.8L1133 3514.5L1144 3499.1L1155 3483.1L1166 3464.7L1177 3440.3L1188 3442.7L1199 3465.1L1210 3466.9L1221 3485.7L1232 3506.1L1243 3530.2L1254 3558.8L1265 3567.2L1276 3598.3L1287 3612.4L1298 3628.6L1309 3642.3L1320 3645.5L1331 3659.6L1342 3677.6L1353 3689.9L1364 3696.1L1375 3694.6L1386 3705.3L1397 3709.1L1408 3716.4L1419 3719.5L1430 3720.1L1441 3735.6L1452 3717.7L1463 3734.5L1474 3735.1L1485 3725.1L1496 3732.8L1507 3734.5L1518 3738.6L1529 3744.6L1540 3734L1551 3727.8L1562 3740.2L1573 3726.5L1584 3741.3L1595 3738.9L1606 3731.5L1617 3734.6L1628 3730.6L1639 3739.5L1650 3741.5L1661 3746.9L1672 3743.4L1683 3743.1L1694 3745.7L1705 3735.8L1716 3742.2" fill="none" stroke="#ff0000" stroke-width="3" stroke-linejoin="round"/>
<path d="M251 3744.1L255 3744.1L259 3744L263 3743.9L267 3743.9L271 3743.8L275 3743.7L279 3743.5L283 3743.4L287 3743.3L291 3743.1L295 3742.9L299 3742.7L303 3742.5L307 3742.2L311 3741.9L315 3741.6L319 3741.3L323 3740.9L327 3740.5L331 3740L335 3739.5L339 3738.9L343 3738.3L347 3737.6L351 3736.9L355 3736.1L359 3735.3L363 3734.3L367 3733.3L371 3732.3L375 3731.1L379 3729.8L383 3728.5L387 3727.1L391 3725.5L395 3723.9L399 3722.1L403 3720.3L407 3718.3L411 3716.2L415 3714L419 3711.7L423 3709.3L427 3706.8L431 3704.1L435 3701.3L439 3698.4L443 3695.4L447 3692.3L451 3689.1L455 3685.7L459 3682.3L463 3678.8L467 3675.2L471 3671.5L475 3667.7L479 3663.9L483 3660L487 3656.1L491 3652.2L495 3648.2L499 3644.3L503 3640.3L507 3636.4L511 3632.4L515 3628.6L519 3624.8L523 3621.1L527 3617.4L531 3613.9L535 3610.5L539 3607.2L543 3604.1L547 3601.2L551 3598.4L555 3595.8L559 3593.4L563 3591.3L567 3589.3L571 3587.6L575 3586.1L579 3584.9L583 3583.9L587 3583.2L591 3582.7L595 3582.5L599 3582.6L603 3582.9L607 3583.5L611 3584.3L615 3585.5L619 3586.8L623 3588.4L627 3590.3L631 3592.3L635 3594.6L639 3597.1L643 3599.8L647 3602.6L651 3605.7L655 3608.9L659 3612.2L663 3615.7L667 3619.2L671 3622.9L675 3626.7L679 3630.5L683 3634.4L687 3638.3L691 3642.3L695 3646.2L699 3650.2L703 3654.2L707 3658.1L711 3662L715 3665.8L719 3669.6L723 3673.4L727 3677L731 3680.6L735 3684L739 3687.4L743 3690.7L747 3693.9L751 3696.9L755 3699.9L759 3702.7L763 3705.5L767 3708.1L771 3710.5L775 3712.9L779 3715.2L783 3717.3L787 3719.3L791 3721.2L795 3723L799 3724.7L803 3726.3L807 3727.8L811 3729.2L815 3730.5L819 3731.7L823 3732.8L827 3733.9L831 3734.8L835 3735.7L839 3736.5L843 3737.3L847 3738L851 3738.6L855 3739.2L859 3739.7L863 3740.2L867 3740.7L871 3741.1L875 3741.4L879 3741.8L883 3742.1L887 3742.3L891 3742.6L895 3742.8L899 3743L903 3743.2L907 3743.3L911 3743.5L915 3743.6L919 3743.7L923 3743.8L927 3743.9L931 3744L935 3744L939 3744.1L943 3744.2" fill="none" stroke="#000080" stroke-width="4.2" stroke-linejoin="round"/>
<path d="M279 3742.5L283 3742.4L287 3742.3L291 3742.1L295 3741.9L299 3741.7L303 3741.5L307 3741.2L311 3740.9L315 3740.6L319 3740.3L323 3739.9L327 3739.5L331 3739L335 3738.5L339 3737.9L343 3737.3L347 3736.6L351 3735.9L355 3735.1L359 3734.3L363 3733.3L367 3732.3L371 3731.3L375 3730.1L379 3728.8L383 3727.5L387 3726.1L391 3724.5L395 3722.9L399 3721.1L403 3719.3L407 3717.3L411 3715.2L415 3713L419 3710.7L423 3708.3L427 3705.8L431 3703.1L435 3700.3L439 3697.4L443 3694.4L447 3691.3L451 3688.1L455 3684.7L459 3681.3L463 3677.8L467 3674.2L471 3670.5L475 3666.7L479 3662.9L483 3659L487 3655.1L491 3651.2L495 3647.2L499 3643.3L503 3639.3L507 3635.4L511 3631.4L515 3627.6L519 3623.8L523 3620.1L527 3616.4L531 3612.9L535 3609.5L539 3606.2L543 3603.1L547 3600.2L551 3597.4L555 3594.8L559 3592.4L563 3590.3L567 3588.3L571 3586.6L575 3585.1L579 3583.9L583 3582.9L587 3582.2L591 3581.7L595 3581.5L599 3581.6L603 3581.9L607 3582.5L611 3583.3L615 3584.5L619 3585.8L623 3587.4L627 3589.3L631 3591.3L635 3593.6L639 3596.1L643 3598.8L647 3601.6L651 3604.7L655 3607.9L659 3611.2L663 3614.7L667 3618.2L671 3621.9L675 3625.7L679 3629.5L683 3633.4L687 3637.3L691 3641.3L695 3645.2L699 3649.2L703 3653.2L707 3657.1L711 3661L715 3664.8L719 3668.6L723 3672.3L727 3676L731 3679.5L735 3683L739 3686.3L743 3689.6L747 3692.7L751 3695.7L755 3698.6L759 3701.4L763 3704L767 3706.5L771 3708.9L775 3711.1L779 3713.2L783 3715.1L787 3716.9L791 3718.5L795 3719.9L799 3721.2L803 3722.4L807 3723.3L811 3724.1L815 3724.8L819 3725.2L823 3725.5L827 3725.6L831 3725.5L835 3725.3L839 3724.8L843 3724.3L847 3723.5L851 3722.6L855 3721.6L859 3720.5L863 3719.2L867 3717.9L871 3716.4L875 3714.9L879 3713.4L883 3711.9L887 3710.3L891 3708.8L895 3707.4L899 3706L903 3704.7L907 3703.6L911 3702.6L915 3701.8L919 3701.1L923 3700.6L927 3700.3L931 3700.2L935 3700.3L939 3700.5L943 3700.9L947 3701.5L951 3702.3L955 3703.1L959 3704.1L963 3705.1L967 3706.1L971 3707.2L975 3708.3L979 3709.3L983 3710.2L987 3711L991 3711.6L995 3712.1L999 3712.3L1003 3712.3L1007 3712L1011 3711.4L1015 3710.5L1019 3709.3L1023 3707.7L1027 3705.7L1031 3703.3L1035 3700.5L1039 3697.3L1043 3693.7L1047 3689.6L1051 3685.1L1055 3680.1L1059 3674.7L1063 3668.9L1067 3662.6L1071 3655.9L1075 3648.9L1079 3641.4L1083 3633.7L1087 3625.6L1091 3617.2L1095 3608.5L1099 3599.6L1103 3590.6L1107 3581.4L1111 3572.2L1115 3562.9L1119 3553.7L1123 3544.5L1127 3535.5L1131 3526.7L1135 3518.2L1139 3510.1L1143 3502.3L1147 3495L1151 3488.2L1155 3481.9L1159 3476.3L1163 3471.3L1167 3467.1L1171 3463.6L1175 3460.8L1179 3458.9L1183 3457.7L1187 3457.4L1191 3457.9L1195 3459.2L1199 3461.3L1203 3464.1L1207 3467.8L1211 3472.1L1215 3477.2L1219 3482.8L1223 3489.1L1227 3495.9L1231 3503.1L1235 3510.8L1239 3518.9L1243 3527.2L1247 3535.7L1251 3544.4L1255 3553.2L1259 3562.1L1263 3570.9L1267 3579.6L1271 3588.3L1275 3596.7L1279 3604.9L1283 3612.8L1287 3620.5L1291 3627.8L1295 3634.8L1299 3641.4L1303 3647.6L1307 3653.4L1311 3658.9L1315 3663.9L1319 3668.6L1323 3672.9L1327 3676.8L1331 3680.5L1335 3683.8L1339 3686.8L1343 3689.5L1347 3692L1351 3694.3L1355 3696.4L1359 3698.3L1363 3700.1L1367 3701.8L1371 3703.4L1375 3704.9L1379 3706.4L1383 3707.8L1387 3709.2L1391 3710.6L1395 3711.9L1399 3713.3L1403 3714.7L1407 3716.1L1411 3717.5L1415 3718.9L1419 3720.3L1423 3721.7L1427 3723L1431 3724.4L1435 3725.7L1439 3727.1L1443 3728.3L1447 3729.6L1451 3730.7L1455 3731.9L1459 3733L1463 3734L1467 3734.9L1471 3735.8L1475 3736.7L1479 3737.4L1483 3738.2L1487 3738.8L1491 3739.4L1495 3739.9L1499 3740.4L1503 3740.8L1507 3741.2L1511 3741.5L1515 3741.8L1519 3742.1L1523 3742.3L1527 3742.5L1531 3742.7" fill="none" stroke="#0000ff" stroke-width="3.6" stroke-linejoin="round"/>
<path d="M759 3744.2L763 3744.1L767 3744L771 3743.9L775 3743.7L779 3743.5L783 3743.3L787 3743.1L791 3742.8L795 3742.4L799 3742L803 3741.6L807 3741.1L811 3740.5L815 3739.8L819 3739L823 3738.2L827 3737.2L831 3736.2L835 3735.1L839 3733.8L843 3732.5L847 3731L851 3729.5L855 3727.9L859 3726.2L863 3724.5L867 3722.7L871 3720.9L875 3719L879 3717.2L883 3715.3L887 3713.6L891 3711.8L895 3710.2L899 3708.7L903 3707.3L907 3706L911 3704.9L915 3704L919 3703.3L923 3702.8L927 3702.6L931 3702.5L935 3702.7L939 3703.1L943 3703.7L947 3704.5L951 3705.5L955 3706.6L959 3708L963 3709.4L967 3711L971 3712.7L975 3714.4L979 3716.3L983 3718.1L987 3720L991 3721.8L995 3723.6L999 3725.4L1003 3727.1L1007 3728.7L1011 3730.3L1015 3731.8L1019 3733.2L1023 3734.4L1027 3735.6L1031 3736.7L1035 3737.7L1039 3738.6L1043 3739.4L1047 3740.1L1051 3740.8L1055 3741.3L1059 3741.8L1063 3742.2L1067 3742.6L1071 3742.9L1075 3743.2L1079 3743.4L1083 3743.6L1087 3743.8L1091 3743.9L1095 3744L1099 3744.1" fill="none" stroke="#000000" stroke-width="3.6" stroke-linejoin="round"/>
<path d="M915 3744.1L919 3744L923 3744L927 3743.8L931 3743.7L935 3743.5L939 3743.4L943 3743.1L947 3742.9L951 3742.6L955 3742.2L959 3741.8L963 3741.3L967 3740.8L971 3740.1L975 3739.4L979 3738.6L983 3737.6L987 3736.6L991 3735.4L995 3734L999 3732.5L1003 3730.7L1007 3728.8L1011 3726.7L1015 3724.3L1019 3721.7L1023 3718.8L1027 3715.6L1031 3712.1L1035 3708.3L1039 3704.2L1043 3699.8L1047 3695L1051 3689.8L1055 3684.3L1059 3678.4L1063 3672.1L1067 3665.5L1071 3658.5L1075 3651.2L1079 3643.5L1083 3635.5L1087 3627.3L1091 3618.7L1095 3610L1099 3601L1103 3591.9L1107 3582.7L1111 3573.4L1115 3564.1L1119 3554.8L1123 3545.6L1127 3536.6L1131 3527.8L1135 3519.3L1139 3511.1L1143 3503.3L1147 3496L1151 3489.2L1155 3483L1159 3477.3L1163 3472.4L1167 3468.1L1171 3464.6L1175 3461.9L1179 3459.9L1183 3458.8L1187 3458.5L1191 3459L1195 3460.4L1199 3462.5L1203 3465.4L1207 3469.1L1211 3473.6L1215 3478.7L1219 3484.5L1223 3490.8L1227 3497.8L1231 3505.2L1235 3513.1L1239 3521.4L1243 3530L1247 3538.8L1251 3547.9L1255 3557.1L1259 3566.4L1263 3575.7L1267 3585L1271 3594.2L1275 3603.3L1279 3612.2L1283 3620.9L1287 3629.4L1291 3637.6L1295 3645.5L1299 3653L1303 3660.3L1307 3667.2L1311 3673.7L1315 3679.9L1319 3685.7L1323 3691.1L1327 3696.2L1331 3700.9L1335 3705.3L1339 3709.3L1343 3713L1347 3716.4L1351 3719.5L1355 3722.3L1359 3724.9L1363 3727.2L1367 3729.3L1371 3731.2L1375 3732.9L1379 3734.3L1383 3735.7L1387 3736.9L1391 3737.9L1395 3738.8L1399 3739.6L1403 3740.3L1407 3740.9L1411 3741.4L1415 3741.9L1419 3742.3L1423 3742.6L1427 3742.9L1431 3743.2L1435 3743.4L1439 3743.6L1443 3743.7L1447 3743.9L1451 3744L1455 3744.1L1459 3744.1" fill="none" stroke="#ff00ff" stroke-width="3.6" stroke-linejoin="round"/>
<path d="M1207 3744.2L1211 3744.1L1215 3744L1219 3743.9L1223 3743.7L1227 3743.6L1231 3743.4L1235 3743.2L1239 3743L1243 3742.7L1247 3742.4L1251 3742L1255 3741.7L1259 3741.2L1263 3740.7L1267 3740.2L1271 3739.6L1275 3738.9L1279 3738.2L1283 3737.4L1287 3736.6L1291 3735.7L1295 3734.8L1299 3733.8L1303 3732.8L1307 3731.7L1311 3730.6L1315 3729.5L1319 3728.4L1323 3727.3L1327 3726.2L1331 3725.1L1335 3724L1339 3723L1343 3722L1347 3721.1L1351 3720.3L1355 3719.5L1359 3718.9L1363 3718.4L1367 3718L1371 3717.7L1375 3717.5L1379 3717.5L1383 3717.6L1387 3717.8L1391 3718.2L1395 3718.6L1399 3719.2L1403 3719.9L1407 3720.7L1411 3721.5L1415 3722.5L1419 3723.5L1423 3724.5L1427 3725.6L1431 3726.7L1435 3727.8L1439 3729L1443 3730.1L1447 3731.2L1451 3732.3L1455 3733.3L1459 3734.3L1463 3735.3L1467 3736.2L1471 3737L1475 3737.8L1479 3738.6L1483 3739.3L1487 3739.9L1491 3740.5L1495 3741L1499 3741.4L1503 3741.9L1507 3742.2L1511 3742.6L1515 3742.8L1519 3743.1L1523 3743.3L1527 3743.5L1531 3743.7L1535 3743.8L1539 3743.9L1543 3744L1547 3744.1" fill="none" stroke="#008000" stroke-width="3.6" stroke-linejoin="round"/>
<line x1="598.4" y1="2884.9" x2="598.4" y2="3719" stroke="#000080" stroke-width="7" stroke-dasharray="7 23.6"/>
<line x1="929" y1="2979.2" x2="929" y2="3720" stroke="#0000ff" stroke-width="7" stroke-dasharray="7 23.5"/>
<line x1="1196.6" y1="2772.5" x2="1196.6" y2="3727" stroke="#ff00ff" stroke-width="7" stroke-dasharray="7 23.5"/>
<line x1="1402.8" y1="2967.5" x2="1402.8" y2="3709" stroke="#008000" stroke-width="7" stroke-dasharray="7 23.5"/>
<text x="528" y="2863" font-size="60" fill="#000080">342.8 eV</text>
<text x="842" y="2953" font-size="60" fill="#0000ff">340.1 eV</text>
<text x="1112.5" y="2767" font-size="60" fill="#ff00ff">337.8 eV</text>
<text x="1342" y="2953" font-size="60" fill="#008000">335.9 eV</text>
<text x="184" y="2977" font-size="60" fill="#000">Pd/NSC</text>
<text x="183" y="3303.5" font-size="60" fill="#000">Pd/NSC-600</text>
<text x="183" y="3660" font-size="60">Pd/NSC<tspan font-size="44" dy="7">ox-2</tspan></text>
<line x1="1607.7" y1="3777.5" x2="1607.7" y2="3760.5" stroke="#000" stroke-width="4.5"/>
<line x1="1497.3" y1="3777.5" x2="1497.3" y2="3767.5" stroke="#000" stroke-width="4.5"/>
<line x1="1387" y1="3777.5" x2="1387" y2="3760.5" stroke="#000" stroke-width="4.5"/>
<line x1="1276.6" y1="3777.5" x2="1276.6" y2="3767.5" stroke="#000" stroke-width="4.5"/>
<line x1="1166.2" y1="3777.5" x2="1166.2" y2="3760.5" stroke="#000" stroke-width="4.5"/>
<line x1="1055.9" y1="3777.5" x2="1055.9" y2="3767.5" stroke="#000" stroke-width="4.5"/>
<line x1="945.5" y1="3777.5" x2="945.5" y2="3760.5" stroke="#000" stroke-width="4.5"/>
<line x1="835.2" y1="3777.5" x2="835.2" y2="3767.5" stroke="#000" stroke-width="4.5"/>
<line x1="724.8" y1="3777.5" x2="724.8" y2="3760.5" stroke="#000" stroke-width="4.5"/>
<line x1="614.4" y1="3777.5" x2="614.4" y2="3767.5" stroke="#000" stroke-width="4.5"/>
<line x1="504.1" y1="3777.5" x2="504.1" y2="3760.5" stroke="#000" stroke-width="4.5"/>
<line x1="393.7" y1="3777.5" x2="393.7" y2="3767.5" stroke="#000" stroke-width="4.5"/>
<line x1="283.4" y1="3777.5" x2="283.4" y2="3760.5" stroke="#000" stroke-width="4.5"/>
<rect x="176.7" y="2685.3" width="1544.4" height="1088.2" fill="none" stroke="#8c8c8c" stroke-width="3.5"/>
<rect x="172.7" y="2689.3" width="1544.4" height="1088.2" fill="none" stroke="#000" stroke-width="4.6"/>
<text x="281.9" y="3842.5" font-size="65" fill="#000" text-anchor="middle">346</text>
<text x="502.6" y="3842.5" font-size="65" fill="#000" text-anchor="middle">344</text>
<text x="723.3" y="3842.5" font-size="65" fill="#000" text-anchor="middle">342</text>
<text x="944" y="3842.5" font-size="65" fill="#000" text-anchor="middle">340</text>
<text x="1164.7" y="3842.5" font-size="65" fill="#000" text-anchor="middle">338</text>
<text x="1385.5" y="3842.5" font-size="65" fill="#000" text-anchor="middle">336</text>
<text x="1606.2" y="3842.5" font-size="65" fill="#000" text-anchor="middle">334</text>
<text x="978.4" y="3936" font-size="77.1" fill="#000" text-anchor="middle">Binding energy (eV)</text>
<text x="0" y="0" font-size="77.5" transform="translate(126,3476.7) rotate(-90)">Intensity (a.u.)</text>
<text x="246.5" y="2788" font-size="88" fill="#000" letter-spacing="3">(c)</text>
</g>
</svg></body></html>
